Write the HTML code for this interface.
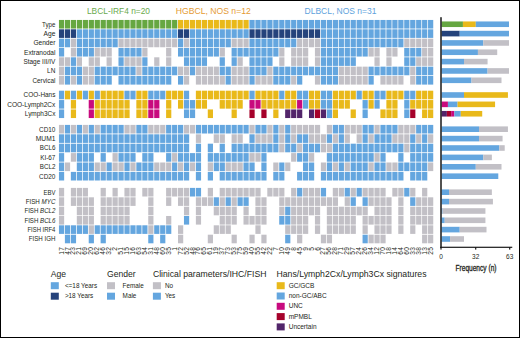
<!DOCTYPE html><html><head><meta charset="utf-8"><style>
html,body{margin:0;padding:0;background:#fff;}
body{width:520px;height:338px;overflow:hidden;position:relative;}
svg{position:absolute;left:0;top:0;} #w{position:absolute;left:0;top:0;width:520px;height:338px;}
text{font-family:"Liberation Sans", sans-serif;}
</style></head><body>
<div id="w"><svg width="520" height="338" viewBox="0 0 520 338">
<rect x="0" y="0" width="520" height="338" fill="#fff"/>
<text x="118.50" y="14.20" font-size="8.9" fill="#6aaa4c" text-anchor="middle" textLength="63.1" lengthAdjust="spacingAndGlyphs" >LBCL-IRF4 n=20</text>
<text x="213.30" y="14.20" font-size="8.9" fill="#e59b33" text-anchor="middle" textLength="75" lengthAdjust="spacingAndGlyphs" >HGBCL, NOS n=12</text>
<text x="340.50" y="14.20" font-size="8.9" fill="#5ea2dc" text-anchor="middle" textLength="71.9" lengthAdjust="spacingAndGlyphs" >DLBCL, NOS n=31</text>
<rect x="58.95" y="19.95" width="5.2" height="8.6" fill="#66a741"/>
<rect x="64.90" y="19.95" width="5.2" height="8.6" fill="#66a741"/>
<rect x="70.86" y="19.95" width="5.2" height="8.6" fill="#66a741"/>
<rect x="76.81" y="19.95" width="5.2" height="8.6" fill="#66a741"/>
<rect x="82.76" y="19.95" width="5.2" height="8.6" fill="#66a741"/>
<rect x="88.72" y="19.95" width="5.2" height="8.6" fill="#66a741"/>
<rect x="94.67" y="19.95" width="5.2" height="8.6" fill="#66a741"/>
<rect x="100.62" y="19.95" width="5.2" height="8.6" fill="#66a741"/>
<rect x="106.57" y="19.95" width="5.2" height="8.6" fill="#66a741"/>
<rect x="112.53" y="19.95" width="5.2" height="8.6" fill="#66a741"/>
<rect x="118.48" y="19.95" width="5.2" height="8.6" fill="#66a741"/>
<rect x="124.43" y="19.95" width="5.2" height="8.6" fill="#66a741"/>
<rect x="130.39" y="19.95" width="5.2" height="8.6" fill="#66a741"/>
<rect x="136.34" y="19.95" width="5.2" height="8.6" fill="#66a741"/>
<rect x="142.29" y="19.95" width="5.2" height="8.6" fill="#66a741"/>
<rect x="148.25" y="19.95" width="5.2" height="8.6" fill="#66a741"/>
<rect x="154.20" y="19.95" width="5.2" height="8.6" fill="#66a741"/>
<rect x="160.15" y="19.95" width="5.2" height="8.6" fill="#66a741"/>
<rect x="166.10" y="19.95" width="5.2" height="8.6" fill="#66a741"/>
<rect x="172.06" y="19.95" width="5.2" height="8.6" fill="#66a741"/>
<rect x="178.01" y="19.95" width="5.2" height="8.6" fill="#e9b91a"/>
<rect x="183.96" y="19.95" width="5.2" height="8.6" fill="#e9b91a"/>
<rect x="189.92" y="19.95" width="5.2" height="8.6" fill="#e9b91a"/>
<rect x="195.87" y="19.95" width="5.2" height="8.6" fill="#e9b91a"/>
<rect x="201.82" y="19.95" width="5.2" height="8.6" fill="#e9b91a"/>
<rect x="207.78" y="19.95" width="5.2" height="8.6" fill="#e9b91a"/>
<rect x="213.73" y="19.95" width="5.2" height="8.6" fill="#e9b91a"/>
<rect x="219.68" y="19.95" width="5.2" height="8.6" fill="#e9b91a"/>
<rect x="225.63" y="19.95" width="5.2" height="8.6" fill="#e9b91a"/>
<rect x="231.59" y="19.95" width="5.2" height="8.6" fill="#e9b91a"/>
<rect x="237.54" y="19.95" width="5.2" height="8.6" fill="#e9b91a"/>
<rect x="243.49" y="19.95" width="5.2" height="8.6" fill="#e9b91a"/>
<rect x="249.45" y="19.95" width="5.2" height="8.6" fill="#64a6df"/>
<rect x="255.40" y="19.95" width="5.2" height="8.6" fill="#64a6df"/>
<rect x="261.35" y="19.95" width="5.2" height="8.6" fill="#64a6df"/>
<rect x="267.31" y="19.95" width="5.2" height="8.6" fill="#64a6df"/>
<rect x="273.26" y="19.95" width="5.2" height="8.6" fill="#64a6df"/>
<rect x="279.21" y="19.95" width="5.2" height="8.6" fill="#64a6df"/>
<rect x="285.16" y="19.95" width="5.2" height="8.6" fill="#64a6df"/>
<rect x="291.12" y="19.95" width="5.2" height="8.6" fill="#64a6df"/>
<rect x="297.07" y="19.95" width="5.2" height="8.6" fill="#64a6df"/>
<rect x="303.02" y="19.95" width="5.2" height="8.6" fill="#64a6df"/>
<rect x="308.98" y="19.95" width="5.2" height="8.6" fill="#64a6df"/>
<rect x="314.93" y="19.95" width="5.2" height="8.6" fill="#64a6df"/>
<rect x="320.88" y="19.95" width="5.2" height="8.6" fill="#64a6df"/>
<rect x="326.83" y="19.95" width="5.2" height="8.6" fill="#64a6df"/>
<rect x="332.79" y="19.95" width="5.2" height="8.6" fill="#64a6df"/>
<rect x="338.74" y="19.95" width="5.2" height="8.6" fill="#64a6df"/>
<rect x="344.69" y="19.95" width="5.2" height="8.6" fill="#64a6df"/>
<rect x="350.65" y="19.95" width="5.2" height="8.6" fill="#64a6df"/>
<rect x="356.60" y="19.95" width="5.2" height="8.6" fill="#64a6df"/>
<rect x="362.55" y="19.95" width="5.2" height="8.6" fill="#64a6df"/>
<rect x="368.51" y="19.95" width="5.2" height="8.6" fill="#64a6df"/>
<rect x="374.46" y="19.95" width="5.2" height="8.6" fill="#64a6df"/>
<rect x="380.41" y="19.95" width="5.2" height="8.6" fill="#64a6df"/>
<rect x="386.37" y="19.95" width="5.2" height="8.6" fill="#64a6df"/>
<rect x="392.32" y="19.95" width="5.2" height="8.6" fill="#64a6df"/>
<rect x="398.27" y="19.95" width="5.2" height="8.6" fill="#64a6df"/>
<rect x="404.22" y="19.95" width="5.2" height="8.6" fill="#64a6df"/>
<rect x="410.18" y="19.95" width="5.2" height="8.6" fill="#64a6df"/>
<rect x="416.13" y="19.95" width="5.2" height="8.6" fill="#64a6df"/>
<rect x="422.08" y="19.95" width="5.2" height="8.6" fill="#64a6df"/>
<rect x="428.04" y="19.95" width="5.2" height="8.6" fill="#64a6df"/>
<text x="55.40" y="26.55" font-size="6.8" fill="#231f20" text-anchor="end" textLength="13.3" lengthAdjust="spacingAndGlyphs" >Type</text>
<rect x="58.95" y="29.30" width="5.2" height="8.6" fill="#25437b"/>
<rect x="64.90" y="29.30" width="5.2" height="8.6" fill="#25437b"/>
<rect x="70.86" y="29.30" width="5.2" height="8.6" fill="#25437b"/>
<rect x="76.81" y="29.30" width="5.2" height="8.6" fill="#64a6df"/>
<rect x="82.76" y="29.30" width="5.2" height="8.6" fill="#64a6df"/>
<rect x="88.72" y="29.30" width="5.2" height="8.6" fill="#64a6df"/>
<rect x="94.67" y="29.30" width="5.2" height="8.6" fill="#64a6df"/>
<rect x="100.62" y="29.30" width="5.2" height="8.6" fill="#64a6df"/>
<rect x="106.57" y="29.30" width="5.2" height="8.6" fill="#64a6df"/>
<rect x="112.53" y="29.30" width="5.2" height="8.6" fill="#64a6df"/>
<rect x="118.48" y="29.30" width="5.2" height="8.6" fill="#64a6df"/>
<rect x="124.43" y="29.30" width="5.2" height="8.6" fill="#64a6df"/>
<rect x="130.39" y="29.30" width="5.2" height="8.6" fill="#64a6df"/>
<rect x="136.34" y="29.30" width="5.2" height="8.6" fill="#64a6df"/>
<rect x="142.29" y="29.30" width="5.2" height="8.6" fill="#64a6df"/>
<rect x="148.25" y="29.30" width="5.2" height="8.6" fill="#64a6df"/>
<rect x="154.20" y="29.30" width="5.2" height="8.6" fill="#64a6df"/>
<rect x="160.15" y="29.30" width="5.2" height="8.6" fill="#64a6df"/>
<rect x="166.10" y="29.30" width="5.2" height="8.6" fill="#64a6df"/>
<rect x="172.06" y="29.30" width="5.2" height="8.6" fill="#64a6df"/>
<rect x="178.01" y="29.30" width="5.2" height="8.6" fill="#25437b"/>
<rect x="183.96" y="29.30" width="5.2" height="8.6" fill="#25437b"/>
<rect x="189.92" y="29.30" width="5.2" height="8.6" fill="#64a6df"/>
<rect x="195.87" y="29.30" width="5.2" height="8.6" fill="#64a6df"/>
<rect x="201.82" y="29.30" width="5.2" height="8.6" fill="#64a6df"/>
<rect x="207.78" y="29.30" width="5.2" height="8.6" fill="#64a6df"/>
<rect x="213.73" y="29.30" width="5.2" height="8.6" fill="#64a6df"/>
<rect x="219.68" y="29.30" width="5.2" height="8.6" fill="#64a6df"/>
<rect x="225.63" y="29.30" width="5.2" height="8.6" fill="#64a6df"/>
<rect x="231.59" y="29.30" width="5.2" height="8.6" fill="#64a6df"/>
<rect x="237.54" y="29.30" width="5.2" height="8.6" fill="#64a6df"/>
<rect x="243.49" y="29.30" width="5.2" height="8.6" fill="#64a6df"/>
<rect x="249.45" y="29.30" width="5.2" height="8.6" fill="#25437b"/>
<rect x="255.40" y="29.30" width="5.2" height="8.6" fill="#25437b"/>
<rect x="261.35" y="29.30" width="5.2" height="8.6" fill="#25437b"/>
<rect x="267.31" y="29.30" width="5.2" height="8.6" fill="#25437b"/>
<rect x="273.26" y="29.30" width="5.2" height="8.6" fill="#25437b"/>
<rect x="279.21" y="29.30" width="5.2" height="8.6" fill="#25437b"/>
<rect x="285.16" y="29.30" width="5.2" height="8.6" fill="#25437b"/>
<rect x="291.12" y="29.30" width="5.2" height="8.6" fill="#25437b"/>
<rect x="297.07" y="29.30" width="5.2" height="8.6" fill="#25437b"/>
<rect x="303.02" y="29.30" width="5.2" height="8.6" fill="#25437b"/>
<rect x="308.98" y="29.30" width="5.2" height="8.6" fill="#25437b"/>
<rect x="314.93" y="29.30" width="5.2" height="8.6" fill="#25437b"/>
<rect x="320.88" y="29.30" width="5.2" height="8.6" fill="#64a6df"/>
<rect x="326.83" y="29.30" width="5.2" height="8.6" fill="#64a6df"/>
<rect x="332.79" y="29.30" width="5.2" height="8.6" fill="#64a6df"/>
<rect x="338.74" y="29.30" width="5.2" height="8.6" fill="#64a6df"/>
<rect x="344.69" y="29.30" width="5.2" height="8.6" fill="#64a6df"/>
<rect x="350.65" y="29.30" width="5.2" height="8.6" fill="#64a6df"/>
<rect x="356.60" y="29.30" width="5.2" height="8.6" fill="#64a6df"/>
<rect x="362.55" y="29.30" width="5.2" height="8.6" fill="#64a6df"/>
<rect x="368.51" y="29.30" width="5.2" height="8.6" fill="#64a6df"/>
<rect x="374.46" y="29.30" width="5.2" height="8.6" fill="#64a6df"/>
<rect x="380.41" y="29.30" width="5.2" height="8.6" fill="#64a6df"/>
<rect x="386.37" y="29.30" width="5.2" height="8.6" fill="#64a6df"/>
<rect x="392.32" y="29.30" width="5.2" height="8.6" fill="#64a6df"/>
<rect x="398.27" y="29.30" width="5.2" height="8.6" fill="#64a6df"/>
<rect x="404.22" y="29.30" width="5.2" height="8.6" fill="#64a6df"/>
<rect x="410.18" y="29.30" width="5.2" height="8.6" fill="#64a6df"/>
<rect x="416.13" y="29.30" width="5.2" height="8.6" fill="#64a6df"/>
<rect x="422.08" y="29.30" width="5.2" height="8.6" fill="#64a6df"/>
<rect x="428.04" y="29.30" width="5.2" height="8.6" fill="#64a6df"/>
<text x="55.40" y="35.90" font-size="6.8" fill="#231f20" text-anchor="end" textLength="11.8" lengthAdjust="spacingAndGlyphs" >Age</text>
<rect x="58.95" y="38.65" width="5.2" height="8.6" fill="#64a6df"/>
<rect x="64.90" y="38.65" width="5.2" height="8.6" fill="#64a6df"/>
<rect x="70.86" y="38.65" width="5.2" height="8.6" fill="#c2c0c6"/>
<rect x="76.81" y="38.65" width="5.2" height="8.6" fill="#64a6df"/>
<rect x="82.76" y="38.65" width="5.2" height="8.6" fill="#64a6df"/>
<rect x="88.72" y="38.65" width="5.2" height="8.6" fill="#64a6df"/>
<rect x="94.67" y="38.65" width="5.2" height="8.6" fill="#64a6df"/>
<rect x="100.62" y="38.65" width="5.2" height="8.6" fill="#64a6df"/>
<rect x="106.57" y="38.65" width="5.2" height="8.6" fill="#64a6df"/>
<rect x="112.53" y="38.65" width="5.2" height="8.6" fill="#64a6df"/>
<rect x="118.48" y="38.65" width="5.2" height="8.6" fill="#c2c0c6"/>
<rect x="124.43" y="38.65" width="5.2" height="8.6" fill="#c2c0c6"/>
<rect x="130.39" y="38.65" width="5.2" height="8.6" fill="#c2c0c6"/>
<rect x="136.34" y="38.65" width="5.2" height="8.6" fill="#c2c0c6"/>
<rect x="142.29" y="38.65" width="5.2" height="8.6" fill="#c2c0c6"/>
<rect x="148.25" y="38.65" width="5.2" height="8.6" fill="#c2c0c6"/>
<rect x="154.20" y="38.65" width="5.2" height="8.6" fill="#c2c0c6"/>
<rect x="160.15" y="38.65" width="5.2" height="8.6" fill="#c2c0c6"/>
<rect x="166.10" y="38.65" width="5.2" height="8.6" fill="#c2c0c6"/>
<rect x="172.06" y="38.65" width="5.2" height="8.6" fill="#c2c0c6"/>
<rect x="178.01" y="38.65" width="5.2" height="8.6" fill="#64a6df"/>
<rect x="183.96" y="38.65" width="5.2" height="8.6" fill="#c2c0c6"/>
<rect x="189.92" y="38.65" width="5.2" height="8.6" fill="#64a6df"/>
<rect x="195.87" y="38.65" width="5.2" height="8.6" fill="#64a6df"/>
<rect x="201.82" y="38.65" width="5.2" height="8.6" fill="#64a6df"/>
<rect x="207.78" y="38.65" width="5.2" height="8.6" fill="#64a6df"/>
<rect x="213.73" y="38.65" width="5.2" height="8.6" fill="#64a6df"/>
<rect x="219.68" y="38.65" width="5.2" height="8.6" fill="#64a6df"/>
<rect x="225.63" y="38.65" width="5.2" height="8.6" fill="#64a6df"/>
<rect x="231.59" y="38.65" width="5.2" height="8.6" fill="#c2c0c6"/>
<rect x="237.54" y="38.65" width="5.2" height="8.6" fill="#c2c0c6"/>
<rect x="243.49" y="38.65" width="5.2" height="8.6" fill="#c2c0c6"/>
<rect x="249.45" y="38.65" width="5.2" height="8.6" fill="#64a6df"/>
<rect x="255.40" y="38.65" width="5.2" height="8.6" fill="#64a6df"/>
<rect x="261.35" y="38.65" width="5.2" height="8.6" fill="#64a6df"/>
<rect x="267.31" y="38.65" width="5.2" height="8.6" fill="#64a6df"/>
<rect x="273.26" y="38.65" width="5.2" height="8.6" fill="#64a6df"/>
<rect x="279.21" y="38.65" width="5.2" height="8.6" fill="#64a6df"/>
<rect x="285.16" y="38.65" width="5.2" height="8.6" fill="#64a6df"/>
<rect x="291.12" y="38.65" width="5.2" height="8.6" fill="#64a6df"/>
<rect x="297.07" y="38.65" width="5.2" height="8.6" fill="#c2c0c6"/>
<rect x="303.02" y="38.65" width="5.2" height="8.6" fill="#c2c0c6"/>
<rect x="308.98" y="38.65" width="5.2" height="8.6" fill="#c2c0c6"/>
<rect x="314.93" y="38.65" width="5.2" height="8.6" fill="#c2c0c6"/>
<rect x="320.88" y="38.65" width="5.2" height="8.6" fill="#64a6df"/>
<rect x="326.83" y="38.65" width="5.2" height="8.6" fill="#64a6df"/>
<rect x="332.79" y="38.65" width="5.2" height="8.6" fill="#64a6df"/>
<rect x="338.74" y="38.65" width="5.2" height="8.6" fill="#64a6df"/>
<rect x="344.69" y="38.65" width="5.2" height="8.6" fill="#64a6df"/>
<rect x="350.65" y="38.65" width="5.2" height="8.6" fill="#64a6df"/>
<rect x="356.60" y="38.65" width="5.2" height="8.6" fill="#64a6df"/>
<rect x="362.55" y="38.65" width="5.2" height="8.6" fill="#64a6df"/>
<rect x="368.51" y="38.65" width="5.2" height="8.6" fill="#64a6df"/>
<rect x="374.46" y="38.65" width="5.2" height="8.6" fill="#64a6df"/>
<rect x="380.41" y="38.65" width="5.2" height="8.6" fill="#64a6df"/>
<rect x="386.37" y="38.65" width="5.2" height="8.6" fill="#64a6df"/>
<rect x="392.32" y="38.65" width="5.2" height="8.6" fill="#64a6df"/>
<rect x="398.27" y="38.65" width="5.2" height="8.6" fill="#64a6df"/>
<rect x="404.22" y="38.65" width="5.2" height="8.6" fill="#c2c0c6"/>
<rect x="410.18" y="38.65" width="5.2" height="8.6" fill="#c2c0c6"/>
<rect x="416.13" y="38.65" width="5.2" height="8.6" fill="#c2c0c6"/>
<rect x="422.08" y="38.65" width="5.2" height="8.6" fill="#c2c0c6"/>
<rect x="428.04" y="38.65" width="5.2" height="8.6" fill="#c2c0c6"/>
<text x="55.40" y="45.25" font-size="6.8" fill="#231f20" text-anchor="end" textLength="22" lengthAdjust="spacingAndGlyphs" >Gender</text>
<rect x="58.95" y="47.95" width="5.2" height="8.6" fill="#64a6df"/>
<rect x="70.86" y="47.95" width="5.2" height="8.6" fill="#c2c0c6"/>
<rect x="76.81" y="47.95" width="5.2" height="8.6" fill="#64a6df"/>
<rect x="82.76" y="47.95" width="5.2" height="8.6" fill="#64a6df"/>
<rect x="88.72" y="47.95" width="5.2" height="8.6" fill="#64a6df"/>
<rect x="94.67" y="47.95" width="5.2" height="8.6" fill="#c2c0c6"/>
<rect x="100.62" y="47.95" width="5.2" height="8.6" fill="#c2c0c6"/>
<rect x="106.57" y="47.95" width="5.2" height="8.6" fill="#c2c0c6"/>
<rect x="118.48" y="47.95" width="5.2" height="8.6" fill="#64a6df"/>
<rect x="124.43" y="47.95" width="5.2" height="8.6" fill="#64a6df"/>
<rect x="130.39" y="47.95" width="5.2" height="8.6" fill="#64a6df"/>
<rect x="136.34" y="47.95" width="5.2" height="8.6" fill="#64a6df"/>
<rect x="142.29" y="47.95" width="5.2" height="8.6" fill="#c2c0c6"/>
<rect x="166.10" y="47.95" width="5.2" height="8.6" fill="#c2c0c6"/>
<rect x="178.01" y="47.95" width="5.2" height="8.6" fill="#64a6df"/>
<rect x="183.96" y="47.95" width="5.2" height="8.6" fill="#64a6df"/>
<rect x="189.92" y="47.95" width="5.2" height="8.6" fill="#64a6df"/>
<rect x="195.87" y="47.95" width="5.2" height="8.6" fill="#64a6df"/>
<rect x="201.82" y="47.95" width="5.2" height="8.6" fill="#64a6df"/>
<rect x="207.78" y="47.95" width="5.2" height="8.6" fill="#64a6df"/>
<rect x="213.73" y="47.95" width="5.2" height="8.6" fill="#64a6df"/>
<rect x="219.68" y="47.95" width="5.2" height="8.6" fill="#c2c0c6"/>
<rect x="231.59" y="47.95" width="5.2" height="8.6" fill="#64a6df"/>
<rect x="237.54" y="47.95" width="5.2" height="8.6" fill="#64a6df"/>
<rect x="243.49" y="47.95" width="5.2" height="8.6" fill="#64a6df"/>
<rect x="249.45" y="47.95" width="5.2" height="8.6" fill="#64a6df"/>
<rect x="255.40" y="47.95" width="5.2" height="8.6" fill="#64a6df"/>
<rect x="261.35" y="47.95" width="5.2" height="8.6" fill="#64a6df"/>
<rect x="267.31" y="47.95" width="5.2" height="8.6" fill="#64a6df"/>
<rect x="273.26" y="47.95" width="5.2" height="8.6" fill="#64a6df"/>
<rect x="279.21" y="47.95" width="5.2" height="8.6" fill="#c2c0c6"/>
<rect x="291.12" y="47.95" width="5.2" height="8.6" fill="#c2c0c6"/>
<rect x="297.07" y="47.95" width="5.2" height="8.6" fill="#c2c0c6"/>
<rect x="303.02" y="47.95" width="5.2" height="8.6" fill="#c2c0c6"/>
<rect x="314.93" y="47.95" width="5.2" height="8.6" fill="#c2c0c6"/>
<rect x="320.88" y="47.95" width="5.2" height="8.6" fill="#64a6df"/>
<rect x="326.83" y="47.95" width="5.2" height="8.6" fill="#64a6df"/>
<rect x="332.79" y="47.95" width="5.2" height="8.6" fill="#64a6df"/>
<rect x="338.74" y="47.95" width="5.2" height="8.6" fill="#64a6df"/>
<rect x="344.69" y="47.95" width="5.2" height="8.6" fill="#64a6df"/>
<rect x="350.65" y="47.95" width="5.2" height="8.6" fill="#64a6df"/>
<rect x="356.60" y="47.95" width="5.2" height="8.6" fill="#64a6df"/>
<rect x="362.55" y="47.95" width="5.2" height="8.6" fill="#64a6df"/>
<rect x="368.51" y="47.95" width="5.2" height="8.6" fill="#c2c0c6"/>
<rect x="374.46" y="47.95" width="5.2" height="8.6" fill="#c2c0c6"/>
<rect x="386.37" y="47.95" width="5.2" height="8.6" fill="#c2c0c6"/>
<rect x="392.32" y="47.95" width="5.2" height="8.6" fill="#c2c0c6"/>
<rect x="404.22" y="47.95" width="5.2" height="8.6" fill="#64a6df"/>
<rect x="410.18" y="47.95" width="5.2" height="8.6" fill="#64a6df"/>
<rect x="416.13" y="47.95" width="5.2" height="8.6" fill="#64a6df"/>
<rect x="422.08" y="47.95" width="5.2" height="8.6" fill="#c2c0c6"/>
<rect x="428.04" y="47.95" width="5.2" height="8.6" fill="#c2c0c6"/>
<text x="55.40" y="54.55" font-size="6.8" fill="#231f20" text-anchor="end" textLength="31.4" lengthAdjust="spacingAndGlyphs" >Extranodal</text>
<rect x="58.95" y="57.30" width="5.2" height="8.6" fill="#c2c0c6"/>
<rect x="64.90" y="57.30" width="5.2" height="8.6" fill="#c2c0c6"/>
<rect x="70.86" y="57.30" width="5.2" height="8.6" fill="#64a6df"/>
<rect x="76.81" y="57.30" width="5.2" height="8.6" fill="#c2c0c6"/>
<rect x="88.72" y="57.30" width="5.2" height="8.6" fill="#c2c0c6"/>
<rect x="94.67" y="57.30" width="5.2" height="8.6" fill="#c2c0c6"/>
<rect x="106.57" y="57.30" width="5.2" height="8.6" fill="#c2c0c6"/>
<rect x="118.48" y="57.30" width="5.2" height="8.6" fill="#64a6df"/>
<rect x="124.43" y="57.30" width="5.2" height="8.6" fill="#c2c0c6"/>
<rect x="130.39" y="57.30" width="5.2" height="8.6" fill="#c2c0c6"/>
<rect x="136.34" y="57.30" width="5.2" height="8.6" fill="#c2c0c6"/>
<rect x="142.29" y="57.30" width="5.2" height="8.6" fill="#64a6df"/>
<rect x="154.20" y="57.30" width="5.2" height="8.6" fill="#c2c0c6"/>
<rect x="166.10" y="57.30" width="5.2" height="8.6" fill="#c2c0c6"/>
<rect x="183.96" y="57.30" width="5.2" height="8.6" fill="#64a6df"/>
<rect x="189.92" y="57.30" width="5.2" height="8.6" fill="#64a6df"/>
<rect x="195.87" y="57.30" width="5.2" height="8.6" fill="#64a6df"/>
<rect x="201.82" y="57.30" width="5.2" height="8.6" fill="#64a6df"/>
<rect x="219.68" y="57.30" width="5.2" height="8.6" fill="#64a6df"/>
<rect x="231.59" y="57.30" width="5.2" height="8.6" fill="#64a6df"/>
<rect x="237.54" y="57.30" width="5.2" height="8.6" fill="#c2c0c6"/>
<rect x="249.45" y="57.30" width="5.2" height="8.6" fill="#64a6df"/>
<rect x="255.40" y="57.30" width="5.2" height="8.6" fill="#64a6df"/>
<rect x="261.35" y="57.30" width="5.2" height="8.6" fill="#64a6df"/>
<rect x="267.31" y="57.30" width="5.2" height="8.6" fill="#64a6df"/>
<rect x="279.21" y="57.30" width="5.2" height="8.6" fill="#c2c0c6"/>
<rect x="291.12" y="57.30" width="5.2" height="8.6" fill="#c2c0c6"/>
<rect x="297.07" y="57.30" width="5.2" height="8.6" fill="#c2c0c6"/>
<rect x="303.02" y="57.30" width="5.2" height="8.6" fill="#c2c0c6"/>
<rect x="314.93" y="57.30" width="5.2" height="8.6" fill="#c2c0c6"/>
<rect x="320.88" y="57.30" width="5.2" height="8.6" fill="#64a6df"/>
<rect x="326.83" y="57.30" width="5.2" height="8.6" fill="#64a6df"/>
<rect x="332.79" y="57.30" width="5.2" height="8.6" fill="#64a6df"/>
<rect x="338.74" y="57.30" width="5.2" height="8.6" fill="#64a6df"/>
<rect x="344.69" y="57.30" width="5.2" height="8.6" fill="#64a6df"/>
<rect x="350.65" y="57.30" width="5.2" height="8.6" fill="#64a6df"/>
<rect x="374.46" y="57.30" width="5.2" height="8.6" fill="#c2c0c6"/>
<rect x="386.37" y="57.30" width="5.2" height="8.6" fill="#c2c0c6"/>
<rect x="404.22" y="57.30" width="5.2" height="8.6" fill="#64a6df"/>
<rect x="410.18" y="57.30" width="5.2" height="8.6" fill="#64a6df"/>
<rect x="416.13" y="57.30" width="5.2" height="8.6" fill="#c2c0c6"/>
<rect x="422.08" y="57.30" width="5.2" height="8.6" fill="#c2c0c6"/>
<rect x="428.04" y="57.30" width="5.2" height="8.6" fill="#c2c0c6"/>
<text x="55.40" y="63.90" font-size="6.8" fill="#231f20" text-anchor="end" textLength="32" lengthAdjust="spacingAndGlyphs" >Stage III/IV</text>
<rect x="58.95" y="66.65" width="5.2" height="8.6" fill="#c2c0c6"/>
<rect x="64.90" y="66.65" width="5.2" height="8.6" fill="#64a6df"/>
<rect x="70.86" y="66.65" width="5.2" height="8.6" fill="#64a6df"/>
<rect x="76.81" y="66.65" width="5.2" height="8.6" fill="#64a6df"/>
<rect x="82.76" y="66.65" width="5.2" height="8.6" fill="#c2c0c6"/>
<rect x="88.72" y="66.65" width="5.2" height="8.6" fill="#c2c0c6"/>
<rect x="94.67" y="66.65" width="5.2" height="8.6" fill="#64a6df"/>
<rect x="100.62" y="66.65" width="5.2" height="8.6" fill="#64a6df"/>
<rect x="106.57" y="66.65" width="5.2" height="8.6" fill="#64a6df"/>
<rect x="112.53" y="66.65" width="5.2" height="8.6" fill="#64a6df"/>
<rect x="118.48" y="66.65" width="5.2" height="8.6" fill="#64a6df"/>
<rect x="124.43" y="66.65" width="5.2" height="8.6" fill="#64a6df"/>
<rect x="130.39" y="66.65" width="5.2" height="8.6" fill="#64a6df"/>
<rect x="136.34" y="66.65" width="5.2" height="8.6" fill="#c2c0c6"/>
<rect x="142.29" y="66.65" width="5.2" height="8.6" fill="#64a6df"/>
<rect x="148.25" y="66.65" width="5.2" height="8.6" fill="#64a6df"/>
<rect x="154.20" y="66.65" width="5.2" height="8.6" fill="#64a6df"/>
<rect x="160.15" y="66.65" width="5.2" height="8.6" fill="#64a6df"/>
<rect x="166.10" y="66.65" width="5.2" height="8.6" fill="#64a6df"/>
<rect x="172.06" y="66.65" width="5.2" height="8.6" fill="#64a6df"/>
<rect x="178.01" y="66.65" width="5.2" height="8.6" fill="#c2c0c6"/>
<rect x="183.96" y="66.65" width="5.2" height="8.6" fill="#c2c0c6"/>
<rect x="189.92" y="66.65" width="5.2" height="8.6" fill="#64a6df"/>
<rect x="195.87" y="66.65" width="5.2" height="8.6" fill="#c2c0c6"/>
<rect x="201.82" y="66.65" width="5.2" height="8.6" fill="#c2c0c6"/>
<rect x="207.78" y="66.65" width="5.2" height="8.6" fill="#c2c0c6"/>
<rect x="213.73" y="66.65" width="5.2" height="8.6" fill="#c2c0c6"/>
<rect x="219.68" y="66.65" width="5.2" height="8.6" fill="#64a6df"/>
<rect x="225.63" y="66.65" width="5.2" height="8.6" fill="#64a6df"/>
<rect x="231.59" y="66.65" width="5.2" height="8.6" fill="#c2c0c6"/>
<rect x="237.54" y="66.65" width="5.2" height="8.6" fill="#c2c0c6"/>
<rect x="243.49" y="66.65" width="5.2" height="8.6" fill="#c2c0c6"/>
<rect x="249.45" y="66.65" width="5.2" height="8.6" fill="#64a6df"/>
<rect x="255.40" y="66.65" width="5.2" height="8.6" fill="#64a6df"/>
<rect x="261.35" y="66.65" width="5.2" height="8.6" fill="#64a6df"/>
<rect x="267.31" y="66.65" width="5.2" height="8.6" fill="#c2c0c6"/>
<rect x="273.26" y="66.65" width="5.2" height="8.6" fill="#64a6df"/>
<rect x="279.21" y="66.65" width="5.2" height="8.6" fill="#64a6df"/>
<rect x="285.16" y="66.65" width="5.2" height="8.6" fill="#64a6df"/>
<rect x="291.12" y="66.65" width="5.2" height="8.6" fill="#64a6df"/>
<rect x="297.07" y="66.65" width="5.2" height="8.6" fill="#64a6df"/>
<rect x="303.02" y="66.65" width="5.2" height="8.6" fill="#64a6df"/>
<rect x="308.98" y="66.65" width="5.2" height="8.6" fill="#64a6df"/>
<rect x="314.93" y="66.65" width="5.2" height="8.6" fill="#64a6df"/>
<rect x="320.88" y="66.65" width="5.2" height="8.6" fill="#64a6df"/>
<rect x="326.83" y="66.65" width="5.2" height="8.6" fill="#64a6df"/>
<rect x="332.79" y="66.65" width="5.2" height="8.6" fill="#64a6df"/>
<rect x="338.74" y="66.65" width="5.2" height="8.6" fill="#c2c0c6"/>
<rect x="344.69" y="66.65" width="5.2" height="8.6" fill="#c2c0c6"/>
<rect x="350.65" y="66.65" width="5.2" height="8.6" fill="#c2c0c6"/>
<rect x="356.60" y="66.65" width="5.2" height="8.6" fill="#c2c0c6"/>
<rect x="362.55" y="66.65" width="5.2" height="8.6" fill="#c2c0c6"/>
<rect x="368.51" y="66.65" width="5.2" height="8.6" fill="#64a6df"/>
<rect x="374.46" y="66.65" width="5.2" height="8.6" fill="#64a6df"/>
<rect x="380.41" y="66.65" width="5.2" height="8.6" fill="#64a6df"/>
<rect x="386.37" y="66.65" width="5.2" height="8.6" fill="#64a6df"/>
<rect x="392.32" y="66.65" width="5.2" height="8.6" fill="#64a6df"/>
<rect x="398.27" y="66.65" width="5.2" height="8.6" fill="#64a6df"/>
<rect x="404.22" y="66.65" width="5.2" height="8.6" fill="#64a6df"/>
<rect x="410.18" y="66.65" width="5.2" height="8.6" fill="#c2c0c6"/>
<rect x="416.13" y="66.65" width="5.2" height="8.6" fill="#64a6df"/>
<rect x="422.08" y="66.65" width="5.2" height="8.6" fill="#64a6df"/>
<rect x="428.04" y="66.65" width="5.2" height="8.6" fill="#64a6df"/>
<text x="55.40" y="73.25" font-size="6.8" fill="#231f20" text-anchor="end" textLength="8.3" lengthAdjust="spacingAndGlyphs" >LN</text>
<rect x="58.95" y="76.00" width="5.2" height="8.6" fill="#c2c0c6"/>
<rect x="64.90" y="76.00" width="5.2" height="8.6" fill="#64a6df"/>
<rect x="70.86" y="76.00" width="5.2" height="8.6" fill="#c2c0c6"/>
<rect x="76.81" y="76.00" width="5.2" height="8.6" fill="#64a6df"/>
<rect x="82.76" y="76.00" width="5.2" height="8.6" fill="#c2c0c6"/>
<rect x="88.72" y="76.00" width="5.2" height="8.6" fill="#c2c0c6"/>
<rect x="94.67" y="76.00" width="5.2" height="8.6" fill="#64a6df"/>
<rect x="100.62" y="76.00" width="5.2" height="8.6" fill="#64a6df"/>
<rect x="106.57" y="76.00" width="5.2" height="8.6" fill="#64a6df"/>
<rect x="118.48" y="76.00" width="5.2" height="8.6" fill="#64a6df"/>
<rect x="124.43" y="76.00" width="5.2" height="8.6" fill="#64a6df"/>
<rect x="130.39" y="76.00" width="5.2" height="8.6" fill="#64a6df"/>
<rect x="136.34" y="76.00" width="5.2" height="8.6" fill="#64a6df"/>
<rect x="142.29" y="76.00" width="5.2" height="8.6" fill="#64a6df"/>
<rect x="148.25" y="76.00" width="5.2" height="8.6" fill="#64a6df"/>
<rect x="154.20" y="76.00" width="5.2" height="8.6" fill="#64a6df"/>
<rect x="160.15" y="76.00" width="5.2" height="8.6" fill="#64a6df"/>
<rect x="166.10" y="76.00" width="5.2" height="8.6" fill="#64a6df"/>
<rect x="178.01" y="76.00" width="5.2" height="8.6" fill="#64a6df"/>
<rect x="183.96" y="76.00" width="5.2" height="8.6" fill="#c2c0c6"/>
<rect x="195.87" y="76.00" width="5.2" height="8.6" fill="#c2c0c6"/>
<rect x="201.82" y="76.00" width="5.2" height="8.6" fill="#c2c0c6"/>
<rect x="207.78" y="76.00" width="5.2" height="8.6" fill="#c2c0c6"/>
<rect x="213.73" y="76.00" width="5.2" height="8.6" fill="#c2c0c6"/>
<rect x="219.68" y="76.00" width="5.2" height="8.6" fill="#c2c0c6"/>
<rect x="225.63" y="76.00" width="5.2" height="8.6" fill="#64a6df"/>
<rect x="231.59" y="76.00" width="5.2" height="8.6" fill="#c2c0c6"/>
<rect x="237.54" y="76.00" width="5.2" height="8.6" fill="#c2c0c6"/>
<rect x="243.49" y="76.00" width="5.2" height="8.6" fill="#c2c0c6"/>
<rect x="249.45" y="76.00" width="5.2" height="8.6" fill="#64a6df"/>
<rect x="255.40" y="76.00" width="5.2" height="8.6" fill="#c2c0c6"/>
<rect x="261.35" y="76.00" width="5.2" height="8.6" fill="#c2c0c6"/>
<rect x="267.31" y="76.00" width="5.2" height="8.6" fill="#c2c0c6"/>
<rect x="273.26" y="76.00" width="5.2" height="8.6" fill="#64a6df"/>
<rect x="279.21" y="76.00" width="5.2" height="8.6" fill="#64a6df"/>
<rect x="285.16" y="76.00" width="5.2" height="8.6" fill="#64a6df"/>
<rect x="291.12" y="76.00" width="5.2" height="8.6" fill="#c2c0c6"/>
<rect x="297.07" y="76.00" width="5.2" height="8.6" fill="#64a6df"/>
<rect x="314.93" y="76.00" width="5.2" height="8.6" fill="#c2c0c6"/>
<rect x="320.88" y="76.00" width="5.2" height="8.6" fill="#64a6df"/>
<rect x="326.83" y="76.00" width="5.2" height="8.6" fill="#64a6df"/>
<rect x="332.79" y="76.00" width="5.2" height="8.6" fill="#64a6df"/>
<rect x="338.74" y="76.00" width="5.2" height="8.6" fill="#c2c0c6"/>
<rect x="344.69" y="76.00" width="5.2" height="8.6" fill="#c2c0c6"/>
<rect x="350.65" y="76.00" width="5.2" height="8.6" fill="#c2c0c6"/>
<rect x="356.60" y="76.00" width="5.2" height="8.6" fill="#c2c0c6"/>
<rect x="362.55" y="76.00" width="5.2" height="8.6" fill="#c2c0c6"/>
<rect x="368.51" y="76.00" width="5.2" height="8.6" fill="#64a6df"/>
<rect x="380.41" y="76.00" width="5.2" height="8.6" fill="#c2c0c6"/>
<rect x="386.37" y="76.00" width="5.2" height="8.6" fill="#c2c0c6"/>
<rect x="392.32" y="76.00" width="5.2" height="8.6" fill="#c2c0c6"/>
<rect x="398.27" y="76.00" width="5.2" height="8.6" fill="#c2c0c6"/>
<rect x="410.18" y="76.00" width="5.2" height="8.6" fill="#c2c0c6"/>
<rect x="416.13" y="76.00" width="5.2" height="8.6" fill="#64a6df"/>
<rect x="422.08" y="76.00" width="5.2" height="8.6" fill="#64a6df"/>
<rect x="428.04" y="76.00" width="5.2" height="8.6" fill="#64a6df"/>
<text x="55.40" y="82.60" font-size="6.8" fill="#231f20" text-anchor="end" textLength="23" lengthAdjust="spacingAndGlyphs" >Cervical</text>
<rect x="58.95" y="90.70" width="5.2" height="8.6" fill="#64a6df"/>
<rect x="64.90" y="90.70" width="5.2" height="8.6" fill="#e9b91a"/>
<rect x="70.86" y="90.70" width="5.2" height="8.6" fill="#64a6df"/>
<rect x="76.81" y="90.70" width="5.2" height="8.6" fill="#e9b91a"/>
<rect x="82.76" y="90.70" width="5.2" height="8.6" fill="#64a6df"/>
<rect x="88.72" y="90.70" width="5.2" height="8.6" fill="#e9b91a"/>
<rect x="94.67" y="90.70" width="5.2" height="8.6" fill="#64a6df"/>
<rect x="100.62" y="90.70" width="5.2" height="8.6" fill="#e9b91a"/>
<rect x="106.57" y="90.70" width="5.2" height="8.6" fill="#e9b91a"/>
<rect x="112.53" y="90.70" width="5.2" height="8.6" fill="#e9b91a"/>
<rect x="118.48" y="90.70" width="5.2" height="8.6" fill="#e9b91a"/>
<rect x="124.43" y="90.70" width="5.2" height="8.6" fill="#64a6df"/>
<rect x="130.39" y="90.70" width="5.2" height="8.6" fill="#64a6df"/>
<rect x="136.34" y="90.70" width="5.2" height="8.6" fill="#e9b91a"/>
<rect x="142.29" y="90.70" width="5.2" height="8.6" fill="#e9b91a"/>
<rect x="148.25" y="90.70" width="5.2" height="8.6" fill="#64a6df"/>
<rect x="154.20" y="90.70" width="5.2" height="8.6" fill="#64a6df"/>
<rect x="160.15" y="90.70" width="5.2" height="8.6" fill="#64a6df"/>
<rect x="166.10" y="90.70" width="5.2" height="8.6" fill="#e9b91a"/>
<rect x="172.06" y="90.70" width="5.2" height="8.6" fill="#e9b91a"/>
<rect x="178.01" y="90.70" width="5.2" height="8.6" fill="#e9b91a"/>
<rect x="183.96" y="90.70" width="5.2" height="8.6" fill="#64a6df"/>
<rect x="195.87" y="90.70" width="5.2" height="8.6" fill="#e9b91a"/>
<rect x="201.82" y="90.70" width="5.2" height="8.6" fill="#e9b91a"/>
<rect x="207.78" y="90.70" width="5.2" height="8.6" fill="#e9b91a"/>
<rect x="213.73" y="90.70" width="5.2" height="8.6" fill="#e9b91a"/>
<rect x="219.68" y="90.70" width="5.2" height="8.6" fill="#e9b91a"/>
<rect x="225.63" y="90.70" width="5.2" height="8.6" fill="#e9b91a"/>
<rect x="231.59" y="90.70" width="5.2" height="8.6" fill="#e9b91a"/>
<rect x="237.54" y="90.70" width="5.2" height="8.6" fill="#e9b91a"/>
<rect x="243.49" y="90.70" width="5.2" height="8.6" fill="#e9b91a"/>
<rect x="249.45" y="90.70" width="5.2" height="8.6" fill="#64a6df"/>
<rect x="255.40" y="90.70" width="5.2" height="8.6" fill="#e9b91a"/>
<rect x="261.35" y="90.70" width="5.2" height="8.6" fill="#e9b91a"/>
<rect x="267.31" y="90.70" width="5.2" height="8.6" fill="#e9b91a"/>
<rect x="273.26" y="90.70" width="5.2" height="8.6" fill="#e9b91a"/>
<rect x="279.21" y="90.70" width="5.2" height="8.6" fill="#64a6df"/>
<rect x="285.16" y="90.70" width="5.2" height="8.6" fill="#e9b91a"/>
<rect x="291.12" y="90.70" width="5.2" height="8.6" fill="#e9b91a"/>
<rect x="297.07" y="90.70" width="5.2" height="8.6" fill="#64a6df"/>
<rect x="303.02" y="90.70" width="5.2" height="8.6" fill="#64a6df"/>
<rect x="308.98" y="90.70" width="5.2" height="8.6" fill="#e9b91a"/>
<rect x="314.93" y="90.70" width="5.2" height="8.6" fill="#e9b91a"/>
<rect x="320.88" y="90.70" width="5.2" height="8.6" fill="#64a6df"/>
<rect x="326.83" y="90.70" width="5.2" height="8.6" fill="#64a6df"/>
<rect x="332.79" y="90.70" width="5.2" height="8.6" fill="#e9b91a"/>
<rect x="338.74" y="90.70" width="5.2" height="8.6" fill="#e9b91a"/>
<rect x="344.69" y="90.70" width="5.2" height="8.6" fill="#e9b91a"/>
<rect x="350.65" y="90.70" width="5.2" height="8.6" fill="#e9b91a"/>
<rect x="356.60" y="90.70" width="5.2" height="8.6" fill="#64a6df"/>
<rect x="362.55" y="90.70" width="5.2" height="8.6" fill="#e9b91a"/>
<rect x="368.51" y="90.70" width="5.2" height="8.6" fill="#e9b91a"/>
<rect x="374.46" y="90.70" width="5.2" height="8.6" fill="#64a6df"/>
<rect x="380.41" y="90.70" width="5.2" height="8.6" fill="#64a6df"/>
<rect x="386.37" y="90.70" width="5.2" height="8.6" fill="#e9b91a"/>
<rect x="392.32" y="90.70" width="5.2" height="8.6" fill="#e9b91a"/>
<rect x="398.27" y="90.70" width="5.2" height="8.6" fill="#e9b91a"/>
<rect x="404.22" y="90.70" width="5.2" height="8.6" fill="#64a6df"/>
<rect x="410.18" y="90.70" width="5.2" height="8.6" fill="#64a6df"/>
<rect x="416.13" y="90.70" width="5.2" height="8.6" fill="#e9b91a"/>
<rect x="422.08" y="90.70" width="5.2" height="8.6" fill="#e9b91a"/>
<rect x="428.04" y="90.70" width="5.2" height="8.6" fill="#e9b91a"/>
<text x="55.40" y="97.30" font-size="6.8" fill="#231f20" text-anchor="end" textLength="31.8" lengthAdjust="spacingAndGlyphs" >COO-Hans</text>
<rect x="58.95" y="100.05" width="5.2" height="8.6" fill="#64a6df"/>
<rect x="70.86" y="100.05" width="5.2" height="8.6" fill="#e9b91a"/>
<rect x="88.72" y="100.05" width="5.2" height="8.6" fill="#c80a7e"/>
<rect x="94.67" y="100.05" width="5.2" height="8.6" fill="#e9b91a"/>
<rect x="100.62" y="100.05" width="5.2" height="8.6" fill="#e9b91a"/>
<rect x="106.57" y="100.05" width="5.2" height="8.6" fill="#e9b91a"/>
<rect x="112.53" y="100.05" width="5.2" height="8.6" fill="#e9b91a"/>
<rect x="118.48" y="100.05" width="5.2" height="8.6" fill="#e9b91a"/>
<rect x="124.43" y="100.05" width="5.2" height="8.6" fill="#e9b91a"/>
<rect x="136.34" y="100.05" width="5.2" height="8.6" fill="#e9b91a"/>
<rect x="142.29" y="100.05" width="5.2" height="8.6" fill="#e9b91a"/>
<rect x="148.25" y="100.05" width="5.2" height="8.6" fill="#c80a7e"/>
<rect x="154.20" y="100.05" width="5.2" height="8.6" fill="#c80a7e"/>
<rect x="166.10" y="100.05" width="5.2" height="8.6" fill="#e9b91a"/>
<rect x="178.01" y="100.05" width="5.2" height="8.6" fill="#e9b91a"/>
<rect x="183.96" y="100.05" width="5.2" height="8.6" fill="#64a6df"/>
<rect x="189.92" y="100.05" width="5.2" height="8.6" fill="#64a6df"/>
<rect x="195.87" y="100.05" width="5.2" height="8.6" fill="#e9b91a"/>
<rect x="201.82" y="100.05" width="5.2" height="8.6" fill="#e9b91a"/>
<rect x="219.68" y="100.05" width="5.2" height="8.6" fill="#e9b91a"/>
<rect x="225.63" y="100.05" width="5.2" height="8.6" fill="#e9b91a"/>
<rect x="231.59" y="100.05" width="5.2" height="8.6" fill="#e9b91a"/>
<rect x="237.54" y="100.05" width="5.2" height="8.6" fill="#e9b91a"/>
<rect x="249.45" y="100.05" width="5.2" height="8.6" fill="#c80a7e"/>
<rect x="255.40" y="100.05" width="5.2" height="8.6" fill="#c80a7e"/>
<rect x="261.35" y="100.05" width="5.2" height="8.6" fill="#e9b91a"/>
<rect x="267.31" y="100.05" width="5.2" height="8.6" fill="#e9b91a"/>
<rect x="273.26" y="100.05" width="5.2" height="8.6" fill="#e9b91a"/>
<rect x="279.21" y="100.05" width="5.2" height="8.6" fill="#e9b91a"/>
<rect x="285.16" y="100.05" width="5.2" height="8.6" fill="#e9b91a"/>
<rect x="291.12" y="100.05" width="5.2" height="8.6" fill="#e9b91a"/>
<rect x="297.07" y="100.05" width="5.2" height="8.6" fill="#c80a7e"/>
<rect x="303.02" y="100.05" width="5.2" height="8.6" fill="#64a6df"/>
<rect x="308.98" y="100.05" width="5.2" height="8.6" fill="#e9b91a"/>
<rect x="314.93" y="100.05" width="5.2" height="8.6" fill="#e9b91a"/>
<rect x="320.88" y="100.05" width="5.2" height="8.6" fill="#64a6df"/>
<rect x="326.83" y="100.05" width="5.2" height="8.6" fill="#64a6df"/>
<rect x="332.79" y="100.05" width="5.2" height="8.6" fill="#e9b91a"/>
<rect x="338.74" y="100.05" width="5.2" height="8.6" fill="#e9b91a"/>
<rect x="344.69" y="100.05" width="5.2" height="8.6" fill="#e9b91a"/>
<rect x="362.55" y="100.05" width="5.2" height="8.6" fill="#64a6df"/>
<rect x="368.51" y="100.05" width="5.2" height="8.6" fill="#e9b91a"/>
<rect x="374.46" y="100.05" width="5.2" height="8.6" fill="#64a6df"/>
<rect x="386.37" y="100.05" width="5.2" height="8.6" fill="#e9b91a"/>
<rect x="392.32" y="100.05" width="5.2" height="8.6" fill="#e9b91a"/>
<rect x="404.22" y="100.05" width="5.2" height="8.6" fill="#64a6df"/>
<rect x="410.18" y="100.05" width="5.2" height="8.6" fill="#e9b91a"/>
<rect x="416.13" y="100.05" width="5.2" height="8.6" fill="#e9b91a"/>
<rect x="422.08" y="100.05" width="5.2" height="8.6" fill="#e9b91a"/>
<rect x="428.04" y="100.05" width="5.2" height="8.6" fill="#e9b91a"/>
<text x="55.40" y="106.65" font-size="6.8" fill="#231f20" text-anchor="end" textLength="48.2" lengthAdjust="spacingAndGlyphs" >COO-Lymph2Cx</text>
<rect x="58.95" y="109.45" width="5.2" height="8.6" fill="#64a6df"/>
<rect x="70.86" y="109.45" width="5.2" height="8.6" fill="#e9b91a"/>
<rect x="88.72" y="109.45" width="5.2" height="8.6" fill="#c80a7e"/>
<rect x="94.67" y="109.45" width="5.2" height="8.6" fill="#e9b91a"/>
<rect x="100.62" y="109.45" width="5.2" height="8.6" fill="#e9b91a"/>
<rect x="106.57" y="109.45" width="5.2" height="8.6" fill="#e9b91a"/>
<rect x="112.53" y="109.45" width="5.2" height="8.6" fill="#e9b91a"/>
<rect x="118.48" y="109.45" width="5.2" height="8.6" fill="#e9b91a"/>
<rect x="124.43" y="109.45" width="5.2" height="8.6" fill="#e9b91a"/>
<rect x="136.34" y="109.45" width="5.2" height="8.6" fill="#e9b91a"/>
<rect x="142.29" y="109.45" width="5.2" height="8.6" fill="#e9b91a"/>
<rect x="148.25" y="109.45" width="5.2" height="8.6" fill="#c80a7e"/>
<rect x="154.20" y="109.45" width="5.2" height="8.6" fill="#c80a7e"/>
<rect x="166.10" y="109.45" width="5.2" height="8.6" fill="#e9b91a"/>
<rect x="183.96" y="109.45" width="5.2" height="8.6" fill="#64a6df"/>
<rect x="189.92" y="109.45" width="5.2" height="8.6" fill="#64a6df"/>
<rect x="207.78" y="109.45" width="5.2" height="8.6" fill="#e9b91a"/>
<rect x="231.59" y="109.45" width="5.2" height="8.6" fill="#e9b91a"/>
<rect x="249.45" y="109.45" width="5.2" height="8.6" fill="#a6022b"/>
<rect x="261.35" y="109.45" width="5.2" height="8.6" fill="#a6022b"/>
<rect x="273.26" y="109.45" width="5.2" height="8.6" fill="#e9b91a"/>
<rect x="285.16" y="109.45" width="5.2" height="8.6" fill="#52256a"/>
<rect x="291.12" y="109.45" width="5.2" height="8.6" fill="#52256a"/>
<rect x="297.07" y="109.45" width="5.2" height="8.6" fill="#52256a"/>
<rect x="308.98" y="109.45" width="5.2" height="8.6" fill="#52256a"/>
<rect x="314.93" y="109.45" width="5.2" height="8.6" fill="#a6022b"/>
<rect x="320.88" y="109.45" width="5.2" height="8.6" fill="#52256a"/>
<rect x="326.83" y="109.45" width="5.2" height="8.6" fill="#64a6df"/>
<rect x="332.79" y="109.45" width="5.2" height="8.6" fill="#e9b91a"/>
<rect x="350.65" y="109.45" width="5.2" height="8.6" fill="#e9b91a"/>
<rect x="362.55" y="109.45" width="5.2" height="8.6" fill="#64a6df"/>
<rect x="380.41" y="109.45" width="5.2" height="8.6" fill="#e9b91a"/>
<rect x="386.37" y="109.45" width="5.2" height="8.6" fill="#e9b91a"/>
<rect x="392.32" y="109.45" width="5.2" height="8.6" fill="#e9b91a"/>
<rect x="404.22" y="109.45" width="5.2" height="8.6" fill="#64a6df"/>
<rect x="410.18" y="109.45" width="5.2" height="8.6" fill="#a6022b"/>
<rect x="422.08" y="109.45" width="5.2" height="8.6" fill="#e9b91a"/>
<rect x="428.04" y="109.45" width="5.2" height="8.6" fill="#e9b91a"/>
<text x="55.40" y="116.05" font-size="6.8" fill="#231f20" text-anchor="end" textLength="30.6" lengthAdjust="spacingAndGlyphs" >Lymph3Cx</text>
<rect x="58.95" y="124.90" width="5.2" height="8.6" fill="#c2c0c6"/>
<rect x="64.90" y="124.90" width="5.2" height="8.6" fill="#64a6df"/>
<rect x="70.86" y="124.90" width="5.2" height="8.6" fill="#c2c0c6"/>
<rect x="76.81" y="124.90" width="5.2" height="8.6" fill="#64a6df"/>
<rect x="82.76" y="124.90" width="5.2" height="8.6" fill="#c2c0c6"/>
<rect x="88.72" y="124.90" width="5.2" height="8.6" fill="#64a6df"/>
<rect x="94.67" y="124.90" width="5.2" height="8.6" fill="#c2c0c6"/>
<rect x="100.62" y="124.90" width="5.2" height="8.6" fill="#64a6df"/>
<rect x="106.57" y="124.90" width="5.2" height="8.6" fill="#64a6df"/>
<rect x="112.53" y="124.90" width="5.2" height="8.6" fill="#64a6df"/>
<rect x="118.48" y="124.90" width="5.2" height="8.6" fill="#64a6df"/>
<rect x="124.43" y="124.90" width="5.2" height="8.6" fill="#c2c0c6"/>
<rect x="130.39" y="124.90" width="5.2" height="8.6" fill="#c2c0c6"/>
<rect x="136.34" y="124.90" width="5.2" height="8.6" fill="#64a6df"/>
<rect x="142.29" y="124.90" width="5.2" height="8.6" fill="#64a6df"/>
<rect x="148.25" y="124.90" width="5.2" height="8.6" fill="#c2c0c6"/>
<rect x="154.20" y="124.90" width="5.2" height="8.6" fill="#c2c0c6"/>
<rect x="160.15" y="124.90" width="5.2" height="8.6" fill="#c2c0c6"/>
<rect x="166.10" y="124.90" width="5.2" height="8.6" fill="#64a6df"/>
<rect x="172.06" y="124.90" width="5.2" height="8.6" fill="#64a6df"/>
<rect x="178.01" y="124.90" width="5.2" height="8.6" fill="#64a6df"/>
<rect x="183.96" y="124.90" width="5.2" height="8.6" fill="#c2c0c6"/>
<rect x="189.92" y="124.90" width="5.2" height="8.6" fill="#c2c0c6"/>
<rect x="195.87" y="124.90" width="5.2" height="8.6" fill="#64a6df"/>
<rect x="201.82" y="124.90" width="5.2" height="8.6" fill="#64a6df"/>
<rect x="207.78" y="124.90" width="5.2" height="8.6" fill="#64a6df"/>
<rect x="213.73" y="124.90" width="5.2" height="8.6" fill="#64a6df"/>
<rect x="219.68" y="124.90" width="5.2" height="8.6" fill="#64a6df"/>
<rect x="225.63" y="124.90" width="5.2" height="8.6" fill="#64a6df"/>
<rect x="231.59" y="124.90" width="5.2" height="8.6" fill="#64a6df"/>
<rect x="237.54" y="124.90" width="5.2" height="8.6" fill="#64a6df"/>
<rect x="243.49" y="124.90" width="5.2" height="8.6" fill="#64a6df"/>
<rect x="249.45" y="124.90" width="5.2" height="8.6" fill="#c2c0c6"/>
<rect x="255.40" y="124.90" width="5.2" height="8.6" fill="#64a6df"/>
<rect x="261.35" y="124.90" width="5.2" height="8.6" fill="#64a6df"/>
<rect x="267.31" y="124.90" width="5.2" height="8.6" fill="#c2c0c6"/>
<rect x="273.26" y="124.90" width="5.2" height="8.6" fill="#64a6df"/>
<rect x="279.21" y="124.90" width="5.2" height="8.6" fill="#c2c0c6"/>
<rect x="285.16" y="124.90" width="5.2" height="8.6" fill="#64a6df"/>
<rect x="291.12" y="124.90" width="5.2" height="8.6" fill="#c2c0c6"/>
<rect x="297.07" y="124.90" width="5.2" height="8.6" fill="#c2c0c6"/>
<rect x="303.02" y="124.90" width="5.2" height="8.6" fill="#c2c0c6"/>
<rect x="308.98" y="124.90" width="5.2" height="8.6" fill="#c2c0c6"/>
<rect x="314.93" y="124.90" width="5.2" height="8.6" fill="#c2c0c6"/>
<rect x="326.83" y="124.90" width="5.2" height="8.6" fill="#c2c0c6"/>
<rect x="332.79" y="124.90" width="5.2" height="8.6" fill="#64a6df"/>
<rect x="338.74" y="124.90" width="5.2" height="8.6" fill="#64a6df"/>
<rect x="344.69" y="124.90" width="5.2" height="8.6" fill="#c2c0c6"/>
<rect x="350.65" y="124.90" width="5.2" height="8.6" fill="#c2c0c6"/>
<rect x="356.60" y="124.90" width="5.2" height="8.6" fill="#c2c0c6"/>
<rect x="362.55" y="124.90" width="5.2" height="8.6" fill="#64a6df"/>
<rect x="368.51" y="124.90" width="5.2" height="8.6" fill="#64a6df"/>
<rect x="374.46" y="124.90" width="5.2" height="8.6" fill="#c2c0c6"/>
<rect x="380.41" y="124.90" width="5.2" height="8.6" fill="#64a6df"/>
<rect x="386.37" y="124.90" width="5.2" height="8.6" fill="#64a6df"/>
<rect x="392.32" y="124.90" width="5.2" height="8.6" fill="#64a6df"/>
<rect x="398.27" y="124.90" width="5.2" height="8.6" fill="#c2c0c6"/>
<rect x="404.22" y="124.90" width="5.2" height="8.6" fill="#c2c0c6"/>
<rect x="410.18" y="124.90" width="5.2" height="8.6" fill="#c2c0c6"/>
<rect x="416.13" y="124.90" width="5.2" height="8.6" fill="#64a6df"/>
<rect x="422.08" y="124.90" width="5.2" height="8.6" fill="#64a6df"/>
<rect x="428.04" y="124.90" width="5.2" height="8.6" fill="#64a6df"/>
<text x="55.40" y="131.50" font-size="6.8" fill="#231f20" text-anchor="end" textLength="16.4" lengthAdjust="spacingAndGlyphs" >CD10</text>
<rect x="58.95" y="134.30" width="5.2" height="8.6" fill="#64a6df"/>
<rect x="64.90" y="134.30" width="5.2" height="8.6" fill="#64a6df"/>
<rect x="70.86" y="134.30" width="5.2" height="8.6" fill="#64a6df"/>
<rect x="76.81" y="134.30" width="5.2" height="8.6" fill="#64a6df"/>
<rect x="82.76" y="134.30" width="5.2" height="8.6" fill="#64a6df"/>
<rect x="88.72" y="134.30" width="5.2" height="8.6" fill="#64a6df"/>
<rect x="94.67" y="134.30" width="5.2" height="8.6" fill="#64a6df"/>
<rect x="100.62" y="134.30" width="5.2" height="8.6" fill="#64a6df"/>
<rect x="106.57" y="134.30" width="5.2" height="8.6" fill="#64a6df"/>
<rect x="112.53" y="134.30" width="5.2" height="8.6" fill="#64a6df"/>
<rect x="118.48" y="134.30" width="5.2" height="8.6" fill="#64a6df"/>
<rect x="124.43" y="134.30" width="5.2" height="8.6" fill="#64a6df"/>
<rect x="130.39" y="134.30" width="5.2" height="8.6" fill="#64a6df"/>
<rect x="136.34" y="134.30" width="5.2" height="8.6" fill="#64a6df"/>
<rect x="142.29" y="134.30" width="5.2" height="8.6" fill="#64a6df"/>
<rect x="148.25" y="134.30" width="5.2" height="8.6" fill="#64a6df"/>
<rect x="154.20" y="134.30" width="5.2" height="8.6" fill="#64a6df"/>
<rect x="160.15" y="134.30" width="5.2" height="8.6" fill="#64a6df"/>
<rect x="166.10" y="134.30" width="5.2" height="8.6" fill="#64a6df"/>
<rect x="172.06" y="134.30" width="5.2" height="8.6" fill="#64a6df"/>
<rect x="178.01" y="134.30" width="5.2" height="8.6" fill="#64a6df"/>
<rect x="183.96" y="134.30" width="5.2" height="8.6" fill="#64a6df"/>
<rect x="195.87" y="134.30" width="5.2" height="8.6" fill="#c2c0c6"/>
<rect x="213.73" y="134.30" width="5.2" height="8.6" fill="#c2c0c6"/>
<rect x="219.68" y="134.30" width="5.2" height="8.6" fill="#c2c0c6"/>
<rect x="231.59" y="134.30" width="5.2" height="8.6" fill="#c2c0c6"/>
<rect x="237.54" y="134.30" width="5.2" height="8.6" fill="#c2c0c6"/>
<rect x="249.45" y="134.30" width="5.2" height="8.6" fill="#64a6df"/>
<rect x="255.40" y="134.30" width="5.2" height="8.6" fill="#c2c0c6"/>
<rect x="261.35" y="134.30" width="5.2" height="8.6" fill="#c2c0c6"/>
<rect x="267.31" y="134.30" width="5.2" height="8.6" fill="#c2c0c6"/>
<rect x="273.26" y="134.30" width="5.2" height="8.6" fill="#64a6df"/>
<rect x="279.21" y="134.30" width="5.2" height="8.6" fill="#c2c0c6"/>
<rect x="285.16" y="134.30" width="5.2" height="8.6" fill="#64a6df"/>
<rect x="291.12" y="134.30" width="5.2" height="8.6" fill="#c2c0c6"/>
<rect x="297.07" y="134.30" width="5.2" height="8.6" fill="#64a6df"/>
<rect x="303.02" y="134.30" width="5.2" height="8.6" fill="#64a6df"/>
<rect x="308.98" y="134.30" width="5.2" height="8.6" fill="#c2c0c6"/>
<rect x="314.93" y="134.30" width="5.2" height="8.6" fill="#c2c0c6"/>
<rect x="320.88" y="134.30" width="5.2" height="8.6" fill="#c2c0c6"/>
<rect x="326.83" y="134.30" width="5.2" height="8.6" fill="#64a6df"/>
<rect x="332.79" y="134.30" width="5.2" height="8.6" fill="#c2c0c6"/>
<rect x="338.74" y="134.30" width="5.2" height="8.6" fill="#64a6df"/>
<rect x="344.69" y="134.30" width="5.2" height="8.6" fill="#c2c0c6"/>
<rect x="356.60" y="134.30" width="5.2" height="8.6" fill="#c2c0c6"/>
<rect x="362.55" y="134.30" width="5.2" height="8.6" fill="#64a6df"/>
<rect x="368.51" y="134.30" width="5.2" height="8.6" fill="#c2c0c6"/>
<rect x="374.46" y="134.30" width="5.2" height="8.6" fill="#64a6df"/>
<rect x="380.41" y="134.30" width="5.2" height="8.6" fill="#64a6df"/>
<rect x="386.37" y="134.30" width="5.2" height="8.6" fill="#64a6df"/>
<rect x="392.32" y="134.30" width="5.2" height="8.6" fill="#c2c0c6"/>
<rect x="398.27" y="134.30" width="5.2" height="8.6" fill="#c2c0c6"/>
<rect x="404.22" y="134.30" width="5.2" height="8.6" fill="#c2c0c6"/>
<rect x="410.18" y="134.30" width="5.2" height="8.6" fill="#64a6df"/>
<rect x="416.13" y="134.30" width="5.2" height="8.6" fill="#c2c0c6"/>
<rect x="422.08" y="134.30" width="5.2" height="8.6" fill="#64a6df"/>
<rect x="428.04" y="134.30" width="5.2" height="8.6" fill="#c2c0c6"/>
<text x="55.40" y="140.90" font-size="6.8" fill="#231f20" text-anchor="end" textLength="19.6" lengthAdjust="spacingAndGlyphs" >MUM1</text>
<rect x="58.95" y="143.70" width="5.2" height="8.6" fill="#64a6df"/>
<rect x="64.90" y="143.70" width="5.2" height="8.6" fill="#64a6df"/>
<rect x="70.86" y="143.70" width="5.2" height="8.6" fill="#64a6df"/>
<rect x="76.81" y="143.70" width="5.2" height="8.6" fill="#64a6df"/>
<rect x="82.76" y="143.70" width="5.2" height="8.6" fill="#64a6df"/>
<rect x="88.72" y="143.70" width="5.2" height="8.6" fill="#64a6df"/>
<rect x="94.67" y="143.70" width="5.2" height="8.6" fill="#64a6df"/>
<rect x="100.62" y="143.70" width="5.2" height="8.6" fill="#64a6df"/>
<rect x="106.57" y="143.70" width="5.2" height="8.6" fill="#64a6df"/>
<rect x="112.53" y="143.70" width="5.2" height="8.6" fill="#64a6df"/>
<rect x="118.48" y="143.70" width="5.2" height="8.6" fill="#64a6df"/>
<rect x="124.43" y="143.70" width="5.2" height="8.6" fill="#64a6df"/>
<rect x="130.39" y="143.70" width="5.2" height="8.6" fill="#64a6df"/>
<rect x="136.34" y="143.70" width="5.2" height="8.6" fill="#64a6df"/>
<rect x="142.29" y="143.70" width="5.2" height="8.6" fill="#64a6df"/>
<rect x="148.25" y="143.70" width="5.2" height="8.6" fill="#64a6df"/>
<rect x="154.20" y="143.70" width="5.2" height="8.6" fill="#64a6df"/>
<rect x="160.15" y="143.70" width="5.2" height="8.6" fill="#64a6df"/>
<rect x="166.10" y="143.70" width="5.2" height="8.6" fill="#64a6df"/>
<rect x="172.06" y="143.70" width="5.2" height="8.6" fill="#64a6df"/>
<rect x="178.01" y="143.70" width="5.2" height="8.6" fill="#64a6df"/>
<rect x="183.96" y="143.70" width="5.2" height="8.6" fill="#64a6df"/>
<rect x="195.87" y="143.70" width="5.2" height="8.6" fill="#64a6df"/>
<rect x="207.78" y="143.70" width="5.2" height="8.6" fill="#64a6df"/>
<rect x="219.68" y="143.70" width="5.2" height="8.6" fill="#64a6df"/>
<rect x="231.59" y="143.70" width="5.2" height="8.6" fill="#64a6df"/>
<rect x="237.54" y="143.70" width="5.2" height="8.6" fill="#64a6df"/>
<rect x="243.49" y="143.70" width="5.2" height="8.6" fill="#64a6df"/>
<rect x="249.45" y="143.70" width="5.2" height="8.6" fill="#64a6df"/>
<rect x="255.40" y="143.70" width="5.2" height="8.6" fill="#64a6df"/>
<rect x="261.35" y="143.70" width="5.2" height="8.6" fill="#64a6df"/>
<rect x="267.31" y="143.70" width="5.2" height="8.6" fill="#64a6df"/>
<rect x="273.26" y="143.70" width="5.2" height="8.6" fill="#64a6df"/>
<rect x="279.21" y="143.70" width="5.2" height="8.6" fill="#c2c0c6"/>
<rect x="285.16" y="143.70" width="5.2" height="8.6" fill="#64a6df"/>
<rect x="291.12" y="143.70" width="5.2" height="8.6" fill="#64a6df"/>
<rect x="297.07" y="143.70" width="5.2" height="8.6" fill="#c2c0c6"/>
<rect x="303.02" y="143.70" width="5.2" height="8.6" fill="#64a6df"/>
<rect x="308.98" y="143.70" width="5.2" height="8.6" fill="#64a6df"/>
<rect x="314.93" y="143.70" width="5.2" height="8.6" fill="#64a6df"/>
<rect x="320.88" y="143.70" width="5.2" height="8.6" fill="#c2c0c6"/>
<rect x="326.83" y="143.70" width="5.2" height="8.6" fill="#c2c0c6"/>
<rect x="332.79" y="143.70" width="5.2" height="8.6" fill="#64a6df"/>
<rect x="338.74" y="143.70" width="5.2" height="8.6" fill="#64a6df"/>
<rect x="344.69" y="143.70" width="5.2" height="8.6" fill="#64a6df"/>
<rect x="350.65" y="143.70" width="5.2" height="8.6" fill="#64a6df"/>
<rect x="356.60" y="143.70" width="5.2" height="8.6" fill="#64a6df"/>
<rect x="362.55" y="143.70" width="5.2" height="8.6" fill="#64a6df"/>
<rect x="368.51" y="143.70" width="5.2" height="8.6" fill="#64a6df"/>
<rect x="374.46" y="143.70" width="5.2" height="8.6" fill="#64a6df"/>
<rect x="380.41" y="143.70" width="5.2" height="8.6" fill="#64a6df"/>
<rect x="386.37" y="143.70" width="5.2" height="8.6" fill="#64a6df"/>
<rect x="392.32" y="143.70" width="5.2" height="8.6" fill="#64a6df"/>
<rect x="398.27" y="143.70" width="5.2" height="8.6" fill="#64a6df"/>
<rect x="404.22" y="143.70" width="5.2" height="8.6" fill="#c2c0c6"/>
<rect x="410.18" y="143.70" width="5.2" height="8.6" fill="#64a6df"/>
<rect x="416.13" y="143.70" width="5.2" height="8.6" fill="#64a6df"/>
<rect x="422.08" y="143.70" width="5.2" height="8.6" fill="#64a6df"/>
<rect x="428.04" y="143.70" width="5.2" height="8.6" fill="#64a6df"/>
<text x="55.40" y="150.30" font-size="6.8" fill="#231f20" text-anchor="end" textLength="15.6" lengthAdjust="spacingAndGlyphs" >BCL6</text>
<rect x="58.95" y="153.10" width="5.2" height="8.6" fill="#64a6df"/>
<rect x="70.86" y="153.10" width="5.2" height="8.6" fill="#c2c0c6"/>
<rect x="76.81" y="153.10" width="5.2" height="8.6" fill="#64a6df"/>
<rect x="82.76" y="153.10" width="5.2" height="8.6" fill="#64a6df"/>
<rect x="88.72" y="153.10" width="5.2" height="8.6" fill="#64a6df"/>
<rect x="100.62" y="153.10" width="5.2" height="8.6" fill="#64a6df"/>
<rect x="112.53" y="153.10" width="5.2" height="8.6" fill="#c2c0c6"/>
<rect x="118.48" y="153.10" width="5.2" height="8.6" fill="#64a6df"/>
<rect x="124.43" y="153.10" width="5.2" height="8.6" fill="#64a6df"/>
<rect x="130.39" y="153.10" width="5.2" height="8.6" fill="#64a6df"/>
<rect x="142.29" y="153.10" width="5.2" height="8.6" fill="#64a6df"/>
<rect x="148.25" y="153.10" width="5.2" height="8.6" fill="#64a6df"/>
<rect x="166.10" y="153.10" width="5.2" height="8.6" fill="#64a6df"/>
<rect x="172.06" y="153.10" width="5.2" height="8.6" fill="#c2c0c6"/>
<rect x="178.01" y="153.10" width="5.2" height="8.6" fill="#64a6df"/>
<rect x="183.96" y="153.10" width="5.2" height="8.6" fill="#64a6df"/>
<rect x="189.92" y="153.10" width="5.2" height="8.6" fill="#64a6df"/>
<rect x="195.87" y="153.10" width="5.2" height="8.6" fill="#64a6df"/>
<rect x="207.78" y="153.10" width="5.2" height="8.6" fill="#64a6df"/>
<rect x="213.73" y="153.10" width="5.2" height="8.6" fill="#64a6df"/>
<rect x="219.68" y="153.10" width="5.2" height="8.6" fill="#64a6df"/>
<rect x="225.63" y="153.10" width="5.2" height="8.6" fill="#64a6df"/>
<rect x="231.59" y="153.10" width="5.2" height="8.6" fill="#64a6df"/>
<rect x="237.54" y="153.10" width="5.2" height="8.6" fill="#64a6df"/>
<rect x="243.49" y="153.10" width="5.2" height="8.6" fill="#64a6df"/>
<rect x="249.45" y="153.10" width="5.2" height="8.6" fill="#c2c0c6"/>
<rect x="255.40" y="153.10" width="5.2" height="8.6" fill="#c2c0c6"/>
<rect x="261.35" y="153.10" width="5.2" height="8.6" fill="#64a6df"/>
<rect x="291.12" y="153.10" width="5.2" height="8.6" fill="#c2c0c6"/>
<rect x="297.07" y="153.10" width="5.2" height="8.6" fill="#64a6df"/>
<rect x="303.02" y="153.10" width="5.2" height="8.6" fill="#64a6df"/>
<rect x="308.98" y="153.10" width="5.2" height="8.6" fill="#c2c0c6"/>
<rect x="326.83" y="153.10" width="5.2" height="8.6" fill="#64a6df"/>
<rect x="332.79" y="153.10" width="5.2" height="8.6" fill="#64a6df"/>
<rect x="338.74" y="153.10" width="5.2" height="8.6" fill="#64a6df"/>
<rect x="344.69" y="153.10" width="5.2" height="8.6" fill="#64a6df"/>
<rect x="350.65" y="153.10" width="5.2" height="8.6" fill="#64a6df"/>
<rect x="356.60" y="153.10" width="5.2" height="8.6" fill="#64a6df"/>
<rect x="362.55" y="153.10" width="5.2" height="8.6" fill="#64a6df"/>
<rect x="368.51" y="153.10" width="5.2" height="8.6" fill="#64a6df"/>
<rect x="374.46" y="153.10" width="5.2" height="8.6" fill="#c2c0c6"/>
<rect x="380.41" y="153.10" width="5.2" height="8.6" fill="#64a6df"/>
<rect x="398.27" y="153.10" width="5.2" height="8.6" fill="#64a6df"/>
<rect x="410.18" y="153.10" width="5.2" height="8.6" fill="#64a6df"/>
<rect x="416.13" y="153.10" width="5.2" height="8.6" fill="#64a6df"/>
<rect x="422.08" y="153.10" width="5.2" height="8.6" fill="#64a6df"/>
<rect x="428.04" y="153.10" width="5.2" height="8.6" fill="#64a6df"/>
<text x="55.40" y="159.70" font-size="6.8" fill="#231f20" text-anchor="end" textLength="15.2" lengthAdjust="spacingAndGlyphs" >KI-67</text>
<rect x="58.95" y="162.50" width="5.2" height="8.6" fill="#64a6df"/>
<rect x="64.90" y="162.50" width="5.2" height="8.6" fill="#c2c0c6"/>
<rect x="76.81" y="162.50" width="5.2" height="8.6" fill="#64a6df"/>
<rect x="82.76" y="162.50" width="5.2" height="8.6" fill="#64a6df"/>
<rect x="88.72" y="162.50" width="5.2" height="8.6" fill="#64a6df"/>
<rect x="94.67" y="162.50" width="5.2" height="8.6" fill="#c2c0c6"/>
<rect x="100.62" y="162.50" width="5.2" height="8.6" fill="#c2c0c6"/>
<rect x="106.57" y="162.50" width="5.2" height="8.6" fill="#64a6df"/>
<rect x="112.53" y="162.50" width="5.2" height="8.6" fill="#c2c0c6"/>
<rect x="118.48" y="162.50" width="5.2" height="8.6" fill="#c2c0c6"/>
<rect x="124.43" y="162.50" width="5.2" height="8.6" fill="#64a6df"/>
<rect x="130.39" y="162.50" width="5.2" height="8.6" fill="#c2c0c6"/>
<rect x="136.34" y="162.50" width="5.2" height="8.6" fill="#64a6df"/>
<rect x="142.29" y="162.50" width="5.2" height="8.6" fill="#64a6df"/>
<rect x="148.25" y="162.50" width="5.2" height="8.6" fill="#64a6df"/>
<rect x="154.20" y="162.50" width="5.2" height="8.6" fill="#c2c0c6"/>
<rect x="160.15" y="162.50" width="5.2" height="8.6" fill="#c2c0c6"/>
<rect x="166.10" y="162.50" width="5.2" height="8.6" fill="#c2c0c6"/>
<rect x="172.06" y="162.50" width="5.2" height="8.6" fill="#64a6df"/>
<rect x="178.01" y="162.50" width="5.2" height="8.6" fill="#c2c0c6"/>
<rect x="183.96" y="162.50" width="5.2" height="8.6" fill="#64a6df"/>
<rect x="189.92" y="162.50" width="5.2" height="8.6" fill="#c2c0c6"/>
<rect x="195.87" y="162.50" width="5.2" height="8.6" fill="#64a6df"/>
<rect x="207.78" y="162.50" width="5.2" height="8.6" fill="#c2c0c6"/>
<rect x="213.73" y="162.50" width="5.2" height="8.6" fill="#64a6df"/>
<rect x="219.68" y="162.50" width="5.2" height="8.6" fill="#64a6df"/>
<rect x="225.63" y="162.50" width="5.2" height="8.6" fill="#c2c0c6"/>
<rect x="231.59" y="162.50" width="5.2" height="8.6" fill="#c2c0c6"/>
<rect x="237.54" y="162.50" width="5.2" height="8.6" fill="#c2c0c6"/>
<rect x="243.49" y="162.50" width="5.2" height="8.6" fill="#64a6df"/>
<rect x="249.45" y="162.50" width="5.2" height="8.6" fill="#64a6df"/>
<rect x="261.35" y="162.50" width="5.2" height="8.6" fill="#64a6df"/>
<rect x="273.26" y="162.50" width="5.2" height="8.6" fill="#c2c0c6"/>
<rect x="279.21" y="162.50" width="5.2" height="8.6" fill="#64a6df"/>
<rect x="285.16" y="162.50" width="5.2" height="8.6" fill="#c2c0c6"/>
<rect x="303.02" y="162.50" width="5.2" height="8.6" fill="#64a6df"/>
<rect x="308.98" y="162.50" width="5.2" height="8.6" fill="#64a6df"/>
<rect x="320.88" y="162.50" width="5.2" height="8.6" fill="#c2c0c6"/>
<rect x="326.83" y="162.50" width="5.2" height="8.6" fill="#64a6df"/>
<rect x="332.79" y="162.50" width="5.2" height="8.6" fill="#c2c0c6"/>
<rect x="338.74" y="162.50" width="5.2" height="8.6" fill="#64a6df"/>
<rect x="344.69" y="162.50" width="5.2" height="8.6" fill="#c2c0c6"/>
<rect x="350.65" y="162.50" width="5.2" height="8.6" fill="#64a6df"/>
<rect x="356.60" y="162.50" width="5.2" height="8.6" fill="#64a6df"/>
<rect x="362.55" y="162.50" width="5.2" height="8.6" fill="#64a6df"/>
<rect x="368.51" y="162.50" width="5.2" height="8.6" fill="#c2c0c6"/>
<rect x="374.46" y="162.50" width="5.2" height="8.6" fill="#64a6df"/>
<rect x="380.41" y="162.50" width="5.2" height="8.6" fill="#64a6df"/>
<rect x="386.37" y="162.50" width="5.2" height="8.6" fill="#c2c0c6"/>
<rect x="392.32" y="162.50" width="5.2" height="8.6" fill="#c2c0c6"/>
<rect x="398.27" y="162.50" width="5.2" height="8.6" fill="#64a6df"/>
<rect x="404.22" y="162.50" width="5.2" height="8.6" fill="#64a6df"/>
<rect x="410.18" y="162.50" width="5.2" height="8.6" fill="#64a6df"/>
<rect x="416.13" y="162.50" width="5.2" height="8.6" fill="#64a6df"/>
<rect x="422.08" y="162.50" width="5.2" height="8.6" fill="#64a6df"/>
<rect x="428.04" y="162.50" width="5.2" height="8.6" fill="#c2c0c6"/>
<text x="55.40" y="169.10" font-size="6.8" fill="#231f20" text-anchor="end" textLength="15.6" lengthAdjust="spacingAndGlyphs" >BCL2</text>
<rect x="58.95" y="171.90" width="5.2" height="8.6" fill="#64a6df"/>
<rect x="70.86" y="171.90" width="5.2" height="8.6" fill="#64a6df"/>
<rect x="76.81" y="171.90" width="5.2" height="8.6" fill="#64a6df"/>
<rect x="82.76" y="171.90" width="5.2" height="8.6" fill="#64a6df"/>
<rect x="88.72" y="171.90" width="5.2" height="8.6" fill="#64a6df"/>
<rect x="94.67" y="171.90" width="5.2" height="8.6" fill="#64a6df"/>
<rect x="100.62" y="171.90" width="5.2" height="8.6" fill="#64a6df"/>
<rect x="106.57" y="171.90" width="5.2" height="8.6" fill="#64a6df"/>
<rect x="112.53" y="171.90" width="5.2" height="8.6" fill="#64a6df"/>
<rect x="118.48" y="171.90" width="5.2" height="8.6" fill="#64a6df"/>
<rect x="124.43" y="171.90" width="5.2" height="8.6" fill="#64a6df"/>
<rect x="130.39" y="171.90" width="5.2" height="8.6" fill="#64a6df"/>
<rect x="136.34" y="171.90" width="5.2" height="8.6" fill="#64a6df"/>
<rect x="142.29" y="171.90" width="5.2" height="8.6" fill="#64a6df"/>
<rect x="148.25" y="171.90" width="5.2" height="8.6" fill="#64a6df"/>
<rect x="154.20" y="171.90" width="5.2" height="8.6" fill="#64a6df"/>
<rect x="160.15" y="171.90" width="5.2" height="8.6" fill="#64a6df"/>
<rect x="166.10" y="171.90" width="5.2" height="8.6" fill="#64a6df"/>
<rect x="172.06" y="171.90" width="5.2" height="8.6" fill="#64a6df"/>
<rect x="178.01" y="171.90" width="5.2" height="8.6" fill="#64a6df"/>
<rect x="183.96" y="171.90" width="5.2" height="8.6" fill="#64a6df"/>
<rect x="195.87" y="171.90" width="5.2" height="8.6" fill="#64a6df"/>
<rect x="207.78" y="171.90" width="5.2" height="8.6" fill="#64a6df"/>
<rect x="219.68" y="171.90" width="5.2" height="8.6" fill="#64a6df"/>
<rect x="225.63" y="171.90" width="5.2" height="8.6" fill="#64a6df"/>
<rect x="231.59" y="171.90" width="5.2" height="8.6" fill="#64a6df"/>
<rect x="237.54" y="171.90" width="5.2" height="8.6" fill="#64a6df"/>
<rect x="243.49" y="171.90" width="5.2" height="8.6" fill="#64a6df"/>
<rect x="249.45" y="171.90" width="5.2" height="8.6" fill="#64a6df"/>
<rect x="255.40" y="171.90" width="5.2" height="8.6" fill="#64a6df"/>
<rect x="261.35" y="171.90" width="5.2" height="8.6" fill="#64a6df"/>
<rect x="273.26" y="171.90" width="5.2" height="8.6" fill="#64a6df"/>
<rect x="279.21" y="171.90" width="5.2" height="8.6" fill="#64a6df"/>
<rect x="297.07" y="171.90" width="5.2" height="8.6" fill="#64a6df"/>
<rect x="303.02" y="171.90" width="5.2" height="8.6" fill="#64a6df"/>
<rect x="308.98" y="171.90" width="5.2" height="8.6" fill="#64a6df"/>
<rect x="320.88" y="171.90" width="5.2" height="8.6" fill="#64a6df"/>
<rect x="326.83" y="171.90" width="5.2" height="8.6" fill="#64a6df"/>
<rect x="332.79" y="171.90" width="5.2" height="8.6" fill="#64a6df"/>
<rect x="338.74" y="171.90" width="5.2" height="8.6" fill="#64a6df"/>
<rect x="344.69" y="171.90" width="5.2" height="8.6" fill="#64a6df"/>
<rect x="350.65" y="171.90" width="5.2" height="8.6" fill="#64a6df"/>
<rect x="356.60" y="171.90" width="5.2" height="8.6" fill="#64a6df"/>
<rect x="362.55" y="171.90" width="5.2" height="8.6" fill="#64a6df"/>
<rect x="368.51" y="171.90" width="5.2" height="8.6" fill="#64a6df"/>
<rect x="374.46" y="171.90" width="5.2" height="8.6" fill="#64a6df"/>
<rect x="380.41" y="171.90" width="5.2" height="8.6" fill="#64a6df"/>
<rect x="386.37" y="171.90" width="5.2" height="8.6" fill="#64a6df"/>
<rect x="392.32" y="171.90" width="5.2" height="8.6" fill="#64a6df"/>
<rect x="398.27" y="171.90" width="5.2" height="8.6" fill="#64a6df"/>
<rect x="410.18" y="171.90" width="5.2" height="8.6" fill="#64a6df"/>
<rect x="416.13" y="171.90" width="5.2" height="8.6" fill="#64a6df"/>
<rect x="422.08" y="171.90" width="5.2" height="8.6" fill="#64a6df"/>
<text x="55.40" y="178.50" font-size="6.8" fill="#231f20" text-anchor="end" textLength="16.4" lengthAdjust="spacingAndGlyphs" >CD20</text>
<rect x="58.95" y="187.90" width="5.2" height="8.6" fill="#c2c0c6"/>
<rect x="70.86" y="187.90" width="5.2" height="8.6" fill="#c2c0c6"/>
<rect x="76.81" y="187.90" width="5.2" height="8.6" fill="#c2c0c6"/>
<rect x="82.76" y="187.90" width="5.2" height="8.6" fill="#c2c0c6"/>
<rect x="100.62" y="187.90" width="5.2" height="8.6" fill="#c2c0c6"/>
<rect x="112.53" y="187.90" width="5.2" height="8.6" fill="#c2c0c6"/>
<rect x="124.43" y="187.90" width="5.2" height="8.6" fill="#c2c0c6"/>
<rect x="130.39" y="187.90" width="5.2" height="8.6" fill="#c2c0c6"/>
<rect x="142.29" y="187.90" width="5.2" height="8.6" fill="#c2c0c6"/>
<rect x="148.25" y="187.90" width="5.2" height="8.6" fill="#c2c0c6"/>
<rect x="166.10" y="187.90" width="5.2" height="8.6" fill="#c2c0c6"/>
<rect x="172.06" y="187.90" width="5.2" height="8.6" fill="#c2c0c6"/>
<rect x="178.01" y="187.90" width="5.2" height="8.6" fill="#c2c0c6"/>
<rect x="183.96" y="187.90" width="5.2" height="8.6" fill="#c2c0c6"/>
<rect x="189.92" y="187.90" width="5.2" height="8.6" fill="#64a6df"/>
<rect x="195.87" y="187.90" width="5.2" height="8.6" fill="#64a6df"/>
<rect x="207.78" y="187.90" width="5.2" height="8.6" fill="#c2c0c6"/>
<rect x="219.68" y="187.90" width="5.2" height="8.6" fill="#c2c0c6"/>
<rect x="225.63" y="187.90" width="5.2" height="8.6" fill="#c2c0c6"/>
<rect x="231.59" y="187.90" width="5.2" height="8.6" fill="#c2c0c6"/>
<rect x="237.54" y="187.90" width="5.2" height="8.6" fill="#c2c0c6"/>
<rect x="243.49" y="187.90" width="5.2" height="8.6" fill="#c2c0c6"/>
<rect x="249.45" y="187.90" width="5.2" height="8.6" fill="#c2c0c6"/>
<rect x="255.40" y="187.90" width="5.2" height="8.6" fill="#c2c0c6"/>
<rect x="267.31" y="187.90" width="5.2" height="8.6" fill="#c2c0c6"/>
<rect x="273.26" y="187.90" width="5.2" height="8.6" fill="#c2c0c6"/>
<rect x="279.21" y="187.90" width="5.2" height="8.6" fill="#c2c0c6"/>
<rect x="291.12" y="187.90" width="5.2" height="8.6" fill="#c2c0c6"/>
<rect x="297.07" y="187.90" width="5.2" height="8.6" fill="#64a6df"/>
<rect x="303.02" y="187.90" width="5.2" height="8.6" fill="#c2c0c6"/>
<rect x="308.98" y="187.90" width="5.2" height="8.6" fill="#c2c0c6"/>
<rect x="314.93" y="187.90" width="5.2" height="8.6" fill="#c2c0c6"/>
<rect x="320.88" y="187.90" width="5.2" height="8.6" fill="#64a6df"/>
<rect x="332.79" y="187.90" width="5.2" height="8.6" fill="#c2c0c6"/>
<rect x="338.74" y="187.90" width="5.2" height="8.6" fill="#c2c0c6"/>
<rect x="344.69" y="187.90" width="5.2" height="8.6" fill="#64a6df"/>
<rect x="350.65" y="187.90" width="5.2" height="8.6" fill="#c2c0c6"/>
<rect x="356.60" y="187.90" width="5.2" height="8.6" fill="#64a6df"/>
<rect x="362.55" y="187.90" width="5.2" height="8.6" fill="#c2c0c6"/>
<rect x="368.51" y="187.90" width="5.2" height="8.6" fill="#c2c0c6"/>
<rect x="374.46" y="187.90" width="5.2" height="8.6" fill="#c2c0c6"/>
<rect x="380.41" y="187.90" width="5.2" height="8.6" fill="#c2c0c6"/>
<rect x="392.32" y="187.90" width="5.2" height="8.6" fill="#c2c0c6"/>
<rect x="398.27" y="187.90" width="5.2" height="8.6" fill="#c2c0c6"/>
<rect x="404.22" y="187.90" width="5.2" height="8.6" fill="#64a6df"/>
<rect x="410.18" y="187.90" width="5.2" height="8.6" fill="#c2c0c6"/>
<rect x="422.08" y="187.90" width="5.2" height="8.6" fill="#c2c0c6"/>
<text x="55.40" y="194.50" font-size="6.8" fill="#231f20" text-anchor="end" textLength="11.9" lengthAdjust="spacingAndGlyphs" >EBV</text>
<rect x="58.95" y="197.30" width="5.2" height="8.6" fill="#c2c0c6"/>
<rect x="70.86" y="197.30" width="5.2" height="8.6" fill="#c2c0c6"/>
<rect x="76.81" y="197.30" width="5.2" height="8.6" fill="#c2c0c6"/>
<rect x="82.76" y="197.30" width="5.2" height="8.6" fill="#c2c0c6"/>
<rect x="88.72" y="197.30" width="5.2" height="8.6" fill="#c2c0c6"/>
<rect x="100.62" y="197.30" width="5.2" height="8.6" fill="#c2c0c6"/>
<rect x="106.57" y="197.30" width="5.2" height="8.6" fill="#c2c0c6"/>
<rect x="112.53" y="197.30" width="5.2" height="8.6" fill="#c2c0c6"/>
<rect x="118.48" y="197.30" width="5.2" height="8.6" fill="#c2c0c6"/>
<rect x="124.43" y="197.30" width="5.2" height="8.6" fill="#c2c0c6"/>
<rect x="130.39" y="197.30" width="5.2" height="8.6" fill="#c2c0c6"/>
<rect x="148.25" y="197.30" width="5.2" height="8.6" fill="#c2c0c6"/>
<rect x="166.10" y="197.30" width="5.2" height="8.6" fill="#c2c0c6"/>
<rect x="178.01" y="197.30" width="5.2" height="8.6" fill="#c2c0c6"/>
<rect x="183.96" y="197.30" width="5.2" height="8.6" fill="#c2c0c6"/>
<rect x="195.87" y="197.30" width="5.2" height="8.6" fill="#c2c0c6"/>
<rect x="201.82" y="197.30" width="5.2" height="8.6" fill="#c2c0c6"/>
<rect x="207.78" y="197.30" width="5.2" height="8.6" fill="#c2c0c6"/>
<rect x="213.73" y="197.30" width="5.2" height="8.6" fill="#64a6df"/>
<rect x="219.68" y="197.30" width="5.2" height="8.6" fill="#c2c0c6"/>
<rect x="225.63" y="197.30" width="5.2" height="8.6" fill="#64a6df"/>
<rect x="231.59" y="197.30" width="5.2" height="8.6" fill="#c2c0c6"/>
<rect x="237.54" y="197.30" width="5.2" height="8.6" fill="#64a6df"/>
<rect x="243.49" y="197.30" width="5.2" height="8.6" fill="#64a6df"/>
<rect x="255.40" y="197.30" width="5.2" height="8.6" fill="#c2c0c6"/>
<rect x="261.35" y="197.30" width="5.2" height="8.6" fill="#c2c0c6"/>
<rect x="279.21" y="197.30" width="5.2" height="8.6" fill="#c2c0c6"/>
<rect x="285.16" y="197.30" width="5.2" height="8.6" fill="#c2c0c6"/>
<rect x="291.12" y="197.30" width="5.2" height="8.6" fill="#c2c0c6"/>
<rect x="297.07" y="197.30" width="5.2" height="8.6" fill="#c2c0c6"/>
<rect x="303.02" y="197.30" width="5.2" height="8.6" fill="#c2c0c6"/>
<rect x="308.98" y="197.30" width="5.2" height="8.6" fill="#c2c0c6"/>
<rect x="314.93" y="197.30" width="5.2" height="8.6" fill="#c2c0c6"/>
<rect x="320.88" y="197.30" width="5.2" height="8.6" fill="#c2c0c6"/>
<rect x="326.83" y="197.30" width="5.2" height="8.6" fill="#c2c0c6"/>
<rect x="332.79" y="197.30" width="5.2" height="8.6" fill="#c2c0c6"/>
<rect x="344.69" y="197.30" width="5.2" height="8.6" fill="#c2c0c6"/>
<rect x="350.65" y="197.30" width="5.2" height="8.6" fill="#64a6df"/>
<rect x="362.55" y="197.30" width="5.2" height="8.6" fill="#64a6df"/>
<rect x="368.51" y="197.30" width="5.2" height="8.6" fill="#c2c0c6"/>
<rect x="374.46" y="197.30" width="5.2" height="8.6" fill="#c2c0c6"/>
<rect x="380.41" y="197.30" width="5.2" height="8.6" fill="#c2c0c6"/>
<rect x="386.37" y="197.30" width="5.2" height="8.6" fill="#c2c0c6"/>
<rect x="398.27" y="197.30" width="5.2" height="8.6" fill="#c2c0c6"/>
<rect x="410.18" y="197.30" width="5.2" height="8.6" fill="#64a6df"/>
<rect x="416.13" y="197.30" width="5.2" height="8.6" fill="#c2c0c6"/>
<rect x="422.08" y="197.30" width="5.2" height="8.6" fill="#c2c0c6"/>
<rect x="428.04" y="197.30" width="5.2" height="8.6" fill="#c2c0c6"/>
<text x="55.40" y="203.90" font-size="6.8" fill="#231f20" text-anchor="end" textLength="29.7" lengthAdjust="spacingAndGlyphs" >FISH <tspan font-style="italic">MYC</tspan></text>
<rect x="58.95" y="206.70" width="5.2" height="8.6" fill="#c2c0c6"/>
<rect x="76.81" y="206.70" width="5.2" height="8.6" fill="#c2c0c6"/>
<rect x="82.76" y="206.70" width="5.2" height="8.6" fill="#c2c0c6"/>
<rect x="88.72" y="206.70" width="5.2" height="8.6" fill="#c2c0c6"/>
<rect x="100.62" y="206.70" width="5.2" height="8.6" fill="#c2c0c6"/>
<rect x="106.57" y="206.70" width="5.2" height="8.6" fill="#c2c0c6"/>
<rect x="112.53" y="206.70" width="5.2" height="8.6" fill="#c2c0c6"/>
<rect x="118.48" y="206.70" width="5.2" height="8.6" fill="#c2c0c6"/>
<rect x="124.43" y="206.70" width="5.2" height="8.6" fill="#c2c0c6"/>
<rect x="148.25" y="206.70" width="5.2" height="8.6" fill="#c2c0c6"/>
<rect x="183.96" y="206.70" width="5.2" height="8.6" fill="#c2c0c6"/>
<rect x="195.87" y="206.70" width="5.2" height="8.6" fill="#c2c0c6"/>
<rect x="213.73" y="206.70" width="5.2" height="8.6" fill="#c2c0c6"/>
<rect x="219.68" y="206.70" width="5.2" height="8.6" fill="#c2c0c6"/>
<rect x="225.63" y="206.70" width="5.2" height="8.6" fill="#c2c0c6"/>
<rect x="231.59" y="206.70" width="5.2" height="8.6" fill="#c2c0c6"/>
<rect x="243.49" y="206.70" width="5.2" height="8.6" fill="#c2c0c6"/>
<rect x="255.40" y="206.70" width="5.2" height="8.6" fill="#c2c0c6"/>
<rect x="261.35" y="206.70" width="5.2" height="8.6" fill="#c2c0c6"/>
<rect x="279.21" y="206.70" width="5.2" height="8.6" fill="#c2c0c6"/>
<rect x="285.16" y="206.70" width="5.2" height="8.6" fill="#64a6df"/>
<rect x="291.12" y="206.70" width="5.2" height="8.6" fill="#c2c0c6"/>
<rect x="297.07" y="206.70" width="5.2" height="8.6" fill="#c2c0c6"/>
<rect x="303.02" y="206.70" width="5.2" height="8.6" fill="#c2c0c6"/>
<rect x="308.98" y="206.70" width="5.2" height="8.6" fill="#c2c0c6"/>
<rect x="314.93" y="206.70" width="5.2" height="8.6" fill="#c2c0c6"/>
<rect x="326.83" y="206.70" width="5.2" height="8.6" fill="#c2c0c6"/>
<rect x="332.79" y="206.70" width="5.2" height="8.6" fill="#c2c0c6"/>
<rect x="338.74" y="206.70" width="5.2" height="8.6" fill="#c2c0c6"/>
<rect x="344.69" y="206.70" width="5.2" height="8.6" fill="#c2c0c6"/>
<rect x="350.65" y="206.70" width="5.2" height="8.6" fill="#c2c0c6"/>
<rect x="356.60" y="206.70" width="5.2" height="8.6" fill="#c2c0c6"/>
<rect x="362.55" y="206.70" width="5.2" height="8.6" fill="#c2c0c6"/>
<rect x="374.46" y="206.70" width="5.2" height="8.6" fill="#c2c0c6"/>
<rect x="380.41" y="206.70" width="5.2" height="8.6" fill="#c2c0c6"/>
<rect x="386.37" y="206.70" width="5.2" height="8.6" fill="#c2c0c6"/>
<rect x="398.27" y="206.70" width="5.2" height="8.6" fill="#c2c0c6"/>
<rect x="410.18" y="206.70" width="5.2" height="8.6" fill="#c2c0c6"/>
<rect x="416.13" y="206.70" width="5.2" height="8.6" fill="#c2c0c6"/>
<rect x="422.08" y="206.70" width="5.2" height="8.6" fill="#c2c0c6"/>
<rect x="428.04" y="206.70" width="5.2" height="8.6" fill="#c2c0c6"/>
<text x="55.40" y="213.30" font-size="6.8" fill="#231f20" text-anchor="end" textLength="31" lengthAdjust="spacingAndGlyphs" >FISH <tspan font-style="italic">BCL2</tspan></text>
<rect x="58.95" y="216.00" width="5.2" height="8.6" fill="#c2c0c6"/>
<rect x="76.81" y="216.00" width="5.2" height="8.6" fill="#c2c0c6"/>
<rect x="82.76" y="216.00" width="5.2" height="8.6" fill="#c2c0c6"/>
<rect x="88.72" y="216.00" width="5.2" height="8.6" fill="#c2c0c6"/>
<rect x="100.62" y="216.00" width="5.2" height="8.6" fill="#c2c0c6"/>
<rect x="106.57" y="216.00" width="5.2" height="8.6" fill="#c2c0c6"/>
<rect x="112.53" y="216.00" width="5.2" height="8.6" fill="#c2c0c6"/>
<rect x="118.48" y="216.00" width="5.2" height="8.6" fill="#c2c0c6"/>
<rect x="124.43" y="216.00" width="5.2" height="8.6" fill="#c2c0c6"/>
<rect x="148.25" y="216.00" width="5.2" height="8.6" fill="#c2c0c6"/>
<rect x="166.10" y="216.00" width="5.2" height="8.6" fill="#c2c0c6"/>
<rect x="183.96" y="216.00" width="5.2" height="8.6" fill="#64a6df"/>
<rect x="195.87" y="216.00" width="5.2" height="8.6" fill="#c2c0c6"/>
<rect x="219.68" y="216.00" width="5.2" height="8.6" fill="#c2c0c6"/>
<rect x="225.63" y="216.00" width="5.2" height="8.6" fill="#c2c0c6"/>
<rect x="231.59" y="216.00" width="5.2" height="8.6" fill="#c2c0c6"/>
<rect x="243.49" y="216.00" width="5.2" height="8.6" fill="#c2c0c6"/>
<rect x="249.45" y="216.00" width="5.2" height="8.6" fill="#c2c0c6"/>
<rect x="255.40" y="216.00" width="5.2" height="8.6" fill="#c2c0c6"/>
<rect x="261.35" y="216.00" width="5.2" height="8.6" fill="#c2c0c6"/>
<rect x="279.21" y="216.00" width="5.2" height="8.6" fill="#64a6df"/>
<rect x="285.16" y="216.00" width="5.2" height="8.6" fill="#64a6df"/>
<rect x="291.12" y="216.00" width="5.2" height="8.6" fill="#c2c0c6"/>
<rect x="297.07" y="216.00" width="5.2" height="8.6" fill="#c2c0c6"/>
<rect x="303.02" y="216.00" width="5.2" height="8.6" fill="#c2c0c6"/>
<rect x="314.93" y="216.00" width="5.2" height="8.6" fill="#c2c0c6"/>
<rect x="326.83" y="216.00" width="5.2" height="8.6" fill="#c2c0c6"/>
<rect x="332.79" y="216.00" width="5.2" height="8.6" fill="#c2c0c6"/>
<rect x="338.74" y="216.00" width="5.2" height="8.6" fill="#c2c0c6"/>
<rect x="344.69" y="216.00" width="5.2" height="8.6" fill="#c2c0c6"/>
<rect x="350.65" y="216.00" width="5.2" height="8.6" fill="#c2c0c6"/>
<rect x="362.55" y="216.00" width="5.2" height="8.6" fill="#c2c0c6"/>
<rect x="368.51" y="216.00" width="5.2" height="8.6" fill="#c2c0c6"/>
<rect x="374.46" y="216.00" width="5.2" height="8.6" fill="#c2c0c6"/>
<rect x="380.41" y="216.00" width="5.2" height="8.6" fill="#c2c0c6"/>
<rect x="386.37" y="216.00" width="5.2" height="8.6" fill="#c2c0c6"/>
<rect x="398.27" y="216.00" width="5.2" height="8.6" fill="#c2c0c6"/>
<rect x="410.18" y="216.00" width="5.2" height="8.6" fill="#c2c0c6"/>
<rect x="416.13" y="216.00" width="5.2" height="8.6" fill="#c2c0c6"/>
<rect x="422.08" y="216.00" width="5.2" height="8.6" fill="#c2c0c6"/>
<rect x="428.04" y="216.00" width="5.2" height="8.6" fill="#c2c0c6"/>
<text x="55.40" y="222.60" font-size="6.8" fill="#231f20" text-anchor="end" textLength="31" lengthAdjust="spacingAndGlyphs" >FISH <tspan font-style="italic">BCL6</tspan></text>
<rect x="58.95" y="225.30" width="5.2" height="8.6" fill="#64a6df"/>
<rect x="64.90" y="225.30" width="5.2" height="8.6" fill="#64a6df"/>
<rect x="70.86" y="225.30" width="5.2" height="8.6" fill="#64a6df"/>
<rect x="76.81" y="225.30" width="5.2" height="8.6" fill="#64a6df"/>
<rect x="82.76" y="225.30" width="5.2" height="8.6" fill="#64a6df"/>
<rect x="88.72" y="225.30" width="5.2" height="8.6" fill="#c2c0c6"/>
<rect x="94.67" y="225.30" width="5.2" height="8.6" fill="#64a6df"/>
<rect x="100.62" y="225.30" width="5.2" height="8.6" fill="#64a6df"/>
<rect x="106.57" y="225.30" width="5.2" height="8.6" fill="#64a6df"/>
<rect x="112.53" y="225.30" width="5.2" height="8.6" fill="#64a6df"/>
<rect x="118.48" y="225.30" width="5.2" height="8.6" fill="#64a6df"/>
<rect x="124.43" y="225.30" width="5.2" height="8.6" fill="#64a6df"/>
<rect x="130.39" y="225.30" width="5.2" height="8.6" fill="#64a6df"/>
<rect x="136.34" y="225.30" width="5.2" height="8.6" fill="#64a6df"/>
<rect x="142.29" y="225.30" width="5.2" height="8.6" fill="#64a6df"/>
<rect x="148.25" y="225.30" width="5.2" height="8.6" fill="#c2c0c6"/>
<rect x="154.20" y="225.30" width="5.2" height="8.6" fill="#64a6df"/>
<rect x="160.15" y="225.30" width="5.2" height="8.6" fill="#64a6df"/>
<rect x="166.10" y="225.30" width="5.2" height="8.6" fill="#64a6df"/>
<rect x="178.01" y="225.30" width="5.2" height="8.6" fill="#c2c0c6"/>
<rect x="213.73" y="225.30" width="5.2" height="8.6" fill="#c2c0c6"/>
<rect x="219.68" y="225.30" width="5.2" height="8.6" fill="#c2c0c6"/>
<rect x="225.63" y="225.30" width="5.2" height="8.6" fill="#c2c0c6"/>
<rect x="255.40" y="225.30" width="5.2" height="8.6" fill="#c2c0c6"/>
<rect x="285.16" y="225.30" width="5.2" height="8.6" fill="#c2c0c6"/>
<rect x="291.12" y="225.30" width="5.2" height="8.6" fill="#c2c0c6"/>
<rect x="297.07" y="225.30" width="5.2" height="8.6" fill="#c2c0c6"/>
<rect x="303.02" y="225.30" width="5.2" height="8.6" fill="#c2c0c6"/>
<rect x="314.93" y="225.30" width="5.2" height="8.6" fill="#c2c0c6"/>
<rect x="326.83" y="225.30" width="5.2" height="8.6" fill="#c2c0c6"/>
<rect x="332.79" y="225.30" width="5.2" height="8.6" fill="#c2c0c6"/>
<rect x="338.74" y="225.30" width="5.2" height="8.6" fill="#c2c0c6"/>
<rect x="344.69" y="225.30" width="5.2" height="8.6" fill="#c2c0c6"/>
<rect x="350.65" y="225.30" width="5.2" height="8.6" fill="#c2c0c6"/>
<rect x="362.55" y="225.30" width="5.2" height="8.6" fill="#c2c0c6"/>
<rect x="374.46" y="225.30" width="5.2" height="8.6" fill="#c2c0c6"/>
<rect x="380.41" y="225.30" width="5.2" height="8.6" fill="#c2c0c6"/>
<rect x="386.37" y="225.30" width="5.2" height="8.6" fill="#c2c0c6"/>
<rect x="398.27" y="225.30" width="5.2" height="8.6" fill="#c2c0c6"/>
<rect x="410.18" y="225.30" width="5.2" height="8.6" fill="#c2c0c6"/>
<rect x="422.08" y="225.30" width="5.2" height="8.6" fill="#c2c0c6"/>
<rect x="428.04" y="225.30" width="5.2" height="8.6" fill="#c2c0c6"/>
<text x="55.40" y="231.90" font-size="6.8" fill="#231f20" text-anchor="end" textLength="27.9" lengthAdjust="spacingAndGlyphs" >FISH IRF4</text>
<rect x="64.90" y="234.70" width="5.2" height="8.6" fill="#64a6df"/>
<rect x="70.86" y="234.70" width="5.2" height="8.6" fill="#64a6df"/>
<rect x="88.72" y="234.70" width="5.2" height="8.6" fill="#64a6df"/>
<rect x="100.62" y="234.70" width="5.2" height="8.6" fill="#64a6df"/>
<rect x="148.25" y="234.70" width="5.2" height="8.6" fill="#64a6df"/>
<rect x="160.15" y="234.70" width="5.2" height="8.6" fill="#64a6df"/>
<rect x="178.01" y="234.70" width="5.2" height="8.6" fill="#c2c0c6"/>
<rect x="207.78" y="234.70" width="5.2" height="8.6" fill="#c2c0c6"/>
<rect x="231.59" y="234.70" width="5.2" height="8.6" fill="#c2c0c6"/>
<rect x="249.45" y="234.70" width="5.2" height="8.6" fill="#c2c0c6"/>
<rect x="261.35" y="234.70" width="5.2" height="8.6" fill="#c2c0c6"/>
<rect x="285.16" y="234.70" width="5.2" height="8.6" fill="#64a6df"/>
<rect x="297.07" y="234.70" width="5.2" height="8.6" fill="#c2c0c6"/>
<rect x="320.88" y="234.70" width="5.2" height="8.6" fill="#c2c0c6"/>
<rect x="326.83" y="234.70" width="5.2" height="8.6" fill="#c2c0c6"/>
<rect x="362.55" y="234.70" width="5.2" height="8.6" fill="#64a6df"/>
<rect x="368.51" y="234.70" width="5.2" height="8.6" fill="#c2c0c6"/>
<rect x="374.46" y="234.70" width="5.2" height="8.6" fill="#c2c0c6"/>
<rect x="380.41" y="234.70" width="5.2" height="8.6" fill="#c2c0c6"/>
<rect x="422.08" y="234.70" width="5.2" height="8.6" fill="#c2c0c6"/>
<rect x="428.04" y="234.70" width="5.2" height="8.6" fill="#c2c0c6"/>
<text x="55.40" y="241.30" font-size="6.8" fill="#231f20" text-anchor="end" textLength="26.7" lengthAdjust="spacingAndGlyphs" >FISH IGH</text>
<rect x="441.50" y="21.45" width="21.43" height="5.6" fill="#66a741"/>
<rect x="462.93" y="21.45" width="12.86" height="5.6" fill="#e9b91a"/>
<rect x="475.79" y="21.45" width="33.21" height="5.6" fill="#64a6df"/>
<rect x="441.50" y="30.80" width="18.21" height="5.6" fill="#25437b"/>
<rect x="459.71" y="30.80" width="49.29" height="5.6" fill="#64a6df"/>
<rect x="441.50" y="40.15" width="41.79" height="5.6" fill="#64a6df"/>
<rect x="483.29" y="40.15" width="25.71" height="5.6" fill="#c2c0c6"/>
<rect x="441.50" y="49.45" width="36.43" height="5.6" fill="#64a6df"/>
<rect x="477.93" y="49.45" width="19.29" height="5.6" fill="#c2c0c6"/>
<rect x="441.50" y="58.80" width="22.50" height="5.6" fill="#64a6df"/>
<rect x="464.00" y="58.80" width="23.57" height="5.6" fill="#c2c0c6"/>
<rect x="441.50" y="68.15" width="46.07" height="5.6" fill="#64a6df"/>
<rect x="487.57" y="68.15" width="21.43" height="5.6" fill="#c2c0c6"/>
<rect x="441.50" y="77.50" width="30.00" height="5.6" fill="#64a6df"/>
<rect x="471.50" y="77.50" width="30.00" height="5.6" fill="#c2c0c6"/>
<rect x="441.50" y="92.20" width="22.50" height="5.6" fill="#64a6df"/>
<rect x="464.00" y="92.20" width="43.93" height="5.6" fill="#e9b91a"/>
<rect x="441.50" y="101.55" width="6.43" height="5.6" fill="#c80a7e"/>
<rect x="447.93" y="101.55" width="9.64" height="5.6" fill="#64a6df"/>
<rect x="457.57" y="101.55" width="37.50" height="5.6" fill="#e9b91a"/>
<rect x="441.50" y="110.95" width="5.36" height="5.6" fill="#52256a"/>
<rect x="446.86" y="110.95" width="4.29" height="5.6" fill="#a6022b"/>
<rect x="451.14" y="110.95" width="3.21" height="5.6" fill="#c80a7e"/>
<rect x="454.36" y="110.95" width="6.43" height="5.6" fill="#64a6df"/>
<rect x="460.79" y="110.95" width="21.43" height="5.6" fill="#e9b91a"/>
<rect x="441.50" y="126.40" width="37.50" height="5.6" fill="#64a6df"/>
<rect x="479.00" y="126.40" width="28.93" height="5.6" fill="#c2c0c6"/>
<rect x="441.50" y="135.80" width="37.50" height="5.6" fill="#64a6df"/>
<rect x="479.00" y="135.80" width="23.57" height="5.6" fill="#c2c0c6"/>
<rect x="441.50" y="145.20" width="57.86" height="5.6" fill="#64a6df"/>
<rect x="499.36" y="145.20" width="5.36" height="5.6" fill="#c2c0c6"/>
<rect x="441.50" y="154.60" width="41.79" height="5.6" fill="#64a6df"/>
<rect x="483.29" y="154.60" width="8.57" height="5.6" fill="#c2c0c6"/>
<rect x="441.50" y="164.00" width="34.29" height="5.6" fill="#64a6df"/>
<rect x="475.79" y="164.00" width="25.71" height="5.6" fill="#c2c0c6"/>
<rect x="441.50" y="173.40" width="56.79" height="5.6" fill="#64a6df"/>
<rect x="441.50" y="189.40" width="7.50" height="5.6" fill="#64a6df"/>
<rect x="449.00" y="189.40" width="42.86" height="5.6" fill="#c2c0c6"/>
<rect x="441.50" y="198.80" width="7.50" height="5.6" fill="#64a6df"/>
<rect x="449.00" y="198.80" width="43.93" height="5.6" fill="#c2c0c6"/>
<rect x="441.50" y="208.20" width="1.07" height="5.6" fill="#64a6df"/>
<rect x="442.57" y="208.20" width="42.86" height="5.6" fill="#c2c0c6"/>
<rect x="441.50" y="217.50" width="3.21" height="5.6" fill="#64a6df"/>
<rect x="444.71" y="217.50" width="40.71" height="5.6" fill="#c2c0c6"/>
<rect x="441.50" y="226.80" width="18.21" height="5.6" fill="#64a6df"/>
<rect x="459.71" y="226.80" width="26.79" height="5.6" fill="#c2c0c6"/>
<rect x="441.50" y="236.20" width="8.57" height="5.6" fill="#64a6df"/>
<rect x="450.07" y="236.20" width="13.93" height="5.6" fill="#c2c0c6"/>
<rect x="440.25" y="17.2" width="1.5" height="230.8" fill="#1a1a1a"/>
<rect x="440.25" y="246.7" width="72" height="1.2" fill="#1a1a1a"/>
<rect x="440.40" y="247" width="1.2" height="2.6" fill="#1a1a1a"/>
<text x="441.00" y="258.80" font-size="6.5" fill="#231f20" text-anchor="middle" >0</text>
<rect x="475.10" y="247" width="1.2" height="2.6" fill="#1a1a1a"/>
<text x="475.70" y="258.80" font-size="6.5" fill="#231f20" text-anchor="middle" >32</text>
<rect x="509.10" y="247" width="1.2" height="2.6" fill="#1a1a1a"/>
<text x="509.70" y="258.80" font-size="6.5" fill="#231f20" text-anchor="middle" >63</text>
<text x="476.00" y="271.00" font-size="8.6" fill="#231f20" text-anchor="middle" textLength="41" lengthAdjust="spacingAndGlyphs" stroke="#231f20" stroke-width="0.3">Frequency (n)</text>
<text x="0" y="0" font-size="6.6" letter-spacing="0.25" fill="#231f20" text-anchor="end" transform="translate(63.55,246.8) rotate(-90)">17</text>
<text x="0" y="0" font-size="6.6" letter-spacing="0.25" fill="#231f20" text-anchor="end" transform="translate(69.50,246.8) rotate(-90)">47</text>
<text x="0" y="0" font-size="6.6" letter-spacing="0.25" fill="#231f20" text-anchor="end" transform="translate(75.46,246.8) rotate(-90)">23</text>
<text x="0" y="0" font-size="6.6" letter-spacing="0.25" fill="#231f20" text-anchor="end" transform="translate(81.41,246.8) rotate(-90)">21</text>
<text x="0" y="0" font-size="6.6" letter-spacing="0.25" fill="#231f20" text-anchor="end" transform="translate(87.36,246.8) rotate(-90)">69</text>
<text x="0" y="0" font-size="6.6" letter-spacing="0.25" fill="#231f20" text-anchor="end" transform="translate(93.31,246.8) rotate(-90)">20</text>
<text x="0" y="0" font-size="6.6" letter-spacing="0.25" fill="#231f20" text-anchor="end" transform="translate(99.27,246.8) rotate(-90)">62</text>
<text x="0" y="0" font-size="6.6" letter-spacing="0.25" fill="#231f20" text-anchor="end" transform="translate(105.22,246.8) rotate(-90)">46</text>
<text x="0" y="0" font-size="6.6" letter-spacing="0.25" fill="#231f20" text-anchor="end" transform="translate(111.17,246.8) rotate(-90)">32</text>
<text x="0" y="0" font-size="6.6" letter-spacing="0.25" fill="#231f20" text-anchor="end" transform="translate(117.13,246.8) rotate(-90)">2</text>
<text x="0" y="0" font-size="6.6" letter-spacing="0.25" fill="#231f20" text-anchor="end" transform="translate(123.08,246.8) rotate(-90)">51</text>
<text x="0" y="0" font-size="6.6" letter-spacing="0.25" fill="#231f20" text-anchor="end" transform="translate(129.03,246.8) rotate(-90)">15</text>
<text x="0" y="0" font-size="6.6" letter-spacing="0.25" fill="#231f20" text-anchor="end" transform="translate(134.99,246.8) rotate(-90)">16</text>
<text x="0" y="0" font-size="6.6" letter-spacing="0.25" fill="#231f20" text-anchor="end" transform="translate(140.94,246.8) rotate(-90)">63</text>
<text x="0" y="0" font-size="6.6" letter-spacing="0.25" fill="#231f20" text-anchor="end" transform="translate(146.89,246.8) rotate(-90)">54</text>
<text x="0" y="0" font-size="6.6" letter-spacing="0.25" fill="#231f20" text-anchor="end" transform="translate(152.84,246.8) rotate(-90)">31</text>
<text x="0" y="0" font-size="6.6" letter-spacing="0.25" fill="#231f20" text-anchor="end" transform="translate(158.80,246.8) rotate(-90)">48</text>
<text x="0" y="0" font-size="6.6" letter-spacing="0.25" fill="#231f20" text-anchor="end" transform="translate(164.75,246.8) rotate(-90)">60</text>
<text x="0" y="0" font-size="6.6" letter-spacing="0.25" fill="#231f20" text-anchor="end" transform="translate(170.70,246.8) rotate(-90)">35</text>
<text x="0" y="0" font-size="6.6" letter-spacing="0.25" fill="#231f20" text-anchor="end" transform="translate(176.66,246.8) rotate(-90)">1</text>
<text x="0" y="0" font-size="6.6" letter-spacing="0.25" fill="#231f20" text-anchor="end" transform="translate(182.61,246.8) rotate(-90)">72</text>
<text x="0" y="0" font-size="6.6" letter-spacing="0.25" fill="#231f20" text-anchor="end" transform="translate(188.56,246.8) rotate(-90)">52</text>
<text x="0" y="0" font-size="6.6" letter-spacing="0.25" fill="#231f20" text-anchor="end" transform="translate(194.52,246.8) rotate(-90)">48</text>
<text x="0" y="0" font-size="6.6" letter-spacing="0.25" fill="#231f20" text-anchor="end" transform="translate(200.47,246.8) rotate(-90)">76</text>
<text x="0" y="0" font-size="6.6" letter-spacing="0.25" fill="#231f20" text-anchor="end" transform="translate(206.42,246.8) rotate(-90)">65</text>
<text x="0" y="0" font-size="6.6" letter-spacing="0.25" fill="#231f20" text-anchor="end" transform="translate(212.38,246.8) rotate(-90)">61</text>
<text x="0" y="0" font-size="6.6" letter-spacing="0.25" fill="#231f20" text-anchor="end" transform="translate(218.33,246.8) rotate(-90)">19</text>
<text x="0" y="0" font-size="6.6" letter-spacing="0.25" fill="#231f20" text-anchor="end" transform="translate(224.28,246.8) rotate(-90)">37</text>
<text x="0" y="0" font-size="6.6" letter-spacing="0.25" fill="#231f20" text-anchor="end" transform="translate(230.23,246.8) rotate(-90)">73</text>
<text x="0" y="0" font-size="6.6" letter-spacing="0.25" fill="#231f20" text-anchor="end" transform="translate(236.19,246.8) rotate(-90)">53</text>
<text x="0" y="0" font-size="6.6" letter-spacing="0.25" fill="#231f20" text-anchor="end" transform="translate(242.14,246.8) rotate(-90)">75</text>
<text x="0" y="0" font-size="6.6" letter-spacing="0.25" fill="#231f20" text-anchor="end" transform="translate(248.09,246.8) rotate(-90)">59</text>
<text x="0" y="0" font-size="6.6" letter-spacing="0.25" fill="#231f20" text-anchor="end" transform="translate(254.05,246.8) rotate(-90)">40</text>
<text x="0" y="0" font-size="6.6" letter-spacing="0.25" fill="#231f20" text-anchor="end" transform="translate(260.00,246.8) rotate(-90)">55</text>
<text x="0" y="0" font-size="6.6" letter-spacing="0.25" fill="#231f20" text-anchor="end" transform="translate(265.95,246.8) rotate(-90)">42</text>
<text x="0" y="0" font-size="6.6" letter-spacing="0.25" fill="#231f20" text-anchor="end" transform="translate(271.91,246.8) rotate(-90)">22</text>
<text x="0" y="0" font-size="6.6" letter-spacing="0.25" fill="#231f20" text-anchor="end" transform="translate(277.86,246.8) rotate(-90)">7</text>
<text x="0" y="0" font-size="6.6" letter-spacing="0.25" fill="#231f20" text-anchor="end" transform="translate(283.81,246.8) rotate(-90)">10</text>
<text x="0" y="0" font-size="6.6" letter-spacing="0.25" fill="#231f20" text-anchor="end" transform="translate(289.76,246.8) rotate(-90)">49</text>
<text x="0" y="0" font-size="6.6" letter-spacing="0.25" fill="#231f20" text-anchor="end" transform="translate(295.72,246.8) rotate(-90)">8</text>
<text x="0" y="0" font-size="6.6" letter-spacing="0.25" fill="#231f20" text-anchor="end" transform="translate(301.67,246.8) rotate(-90)">45</text>
<text x="0" y="0" font-size="6.6" letter-spacing="0.25" fill="#231f20" text-anchor="end" transform="translate(307.62,246.8) rotate(-90)">9</text>
<text x="0" y="0" font-size="6.6" letter-spacing="0.25" fill="#231f20" text-anchor="end" transform="translate(313.58,246.8) rotate(-90)">5</text>
<text x="0" y="0" font-size="6.6" letter-spacing="0.25" fill="#231f20" text-anchor="end" transform="translate(319.53,246.8) rotate(-90)">6</text>
<text x="0" y="0" font-size="6.6" letter-spacing="0.25" fill="#231f20" text-anchor="end" transform="translate(325.48,246.8) rotate(-90)">27</text>
<text x="0" y="0" font-size="6.6" letter-spacing="0.25" fill="#231f20" text-anchor="end" transform="translate(331.44,246.8) rotate(-90)">56</text>
<text x="0" y="0" font-size="6.6" letter-spacing="0.25" fill="#231f20" text-anchor="end" transform="translate(337.39,246.8) rotate(-90)">28</text>
<text x="0" y="0" font-size="6.6" letter-spacing="0.25" fill="#231f20" text-anchor="end" transform="translate(343.34,246.8) rotate(-90)">71</text>
<text x="0" y="0" font-size="6.6" letter-spacing="0.25" fill="#231f20" text-anchor="end" transform="translate(349.29,246.8) rotate(-90)">29</text>
<text x="0" y="0" font-size="6.6" letter-spacing="0.25" fill="#231f20" text-anchor="end" transform="translate(355.25,246.8) rotate(-90)">57</text>
<text x="0" y="0" font-size="6.6" letter-spacing="0.25" fill="#231f20" text-anchor="end" transform="translate(361.20,246.8) rotate(-90)">24</text>
<text x="0" y="0" font-size="6.6" letter-spacing="0.25" fill="#231f20" text-anchor="end" transform="translate(367.15,246.8) rotate(-90)">26</text>
<text x="0" y="0" font-size="6.6" letter-spacing="0.25" fill="#231f20" text-anchor="end" transform="translate(373.11,246.8) rotate(-90)">34</text>
<text x="0" y="0" font-size="6.6" letter-spacing="0.25" fill="#231f20" text-anchor="end" transform="translate(379.06,246.8) rotate(-90)">12</text>
<text x="0" y="0" font-size="6.6" letter-spacing="0.25" fill="#231f20" text-anchor="end" transform="translate(385.01,246.8) rotate(-90)">70</text>
<text x="0" y="0" font-size="6.6" letter-spacing="0.25" fill="#231f20" text-anchor="end" transform="translate(390.97,246.8) rotate(-90)">18</text>
<text x="0" y="0" font-size="6.6" letter-spacing="0.25" fill="#231f20" text-anchor="end" transform="translate(396.92,246.8) rotate(-90)">14</text>
<text x="0" y="0" font-size="6.6" letter-spacing="0.25" fill="#231f20" text-anchor="end" transform="translate(402.87,246.8) rotate(-90)">64</text>
<text x="0" y="0" font-size="6.6" letter-spacing="0.25" fill="#231f20" text-anchor="end" transform="translate(408.82,246.8) rotate(-90)">60</text>
<text x="0" y="0" font-size="6.6" letter-spacing="0.25" fill="#231f20" text-anchor="end" transform="translate(414.78,246.8) rotate(-90)">33</text>
<text x="0" y="0" font-size="6.6" letter-spacing="0.25" fill="#231f20" text-anchor="end" transform="translate(420.73,246.8) rotate(-90)">38</text>
<text x="0" y="0" font-size="6.6" letter-spacing="0.25" fill="#231f20" text-anchor="end" transform="translate(426.68,246.8) rotate(-90)">13</text>
<text x="0" y="0" font-size="6.6" letter-spacing="0.25" fill="#231f20" text-anchor="end" transform="translate(432.64,246.8) rotate(-90)">25</text>
<text x="50.80" y="276.80" font-size="8.6" fill="#231f20" text-anchor="start" >Age</text>
<rect x="50.8" y="282.2" width="8" height="7" fill="#64a6df"/>
<text x="64.90" y="287.60" font-size="6.35" fill="#231f20" text-anchor="start" textLength="32.3" lengthAdjust="spacingAndGlyphs" >&lt;=18 Years</text>
<rect x="50.8" y="292.7" width="8" height="7" fill="#25437b"/>
<text x="64.90" y="298.00" font-size="6.35" fill="#231f20" text-anchor="start" >&gt;18 Years</text>
<text x="107.00" y="276.80" font-size="8.6" fill="#231f20" text-anchor="start" >Gender</text>
<rect x="107" y="282.2" width="8" height="7" fill="#c2c0c6"/>
<text x="122.60" y="287.60" font-size="6.35" fill="#231f20" text-anchor="start" >Female</text>
<rect x="107" y="292.7" width="8" height="7" fill="#64a6df"/>
<text x="122.60" y="298.00" font-size="6.35" fill="#231f20" text-anchor="start" >Male</text>
<text x="152.90" y="276.80" font-size="8.6" fill="#231f20" text-anchor="start" textLength="113.6" lengthAdjust="spacingAndGlyphs" >Clinical parameters/IHC/FISH</text>
<rect x="152.9" y="282.2" width="8" height="7" fill="#c2c0c6"/>
<text x="164.90" y="287.60" font-size="6.35" fill="#231f20" text-anchor="start" >No</text>
<rect x="152.9" y="292.7" width="8" height="7" fill="#64a6df"/>
<text x="164.90" y="298.00" font-size="6.35" fill="#231f20" text-anchor="start" >Yes</text>
<text x="276.50" y="276.80" font-size="8.6" fill="#231f20" text-anchor="start" textLength="150" lengthAdjust="spacingAndGlyphs" >Hans/Lymph2Cx/Lymph3Cx signatures</text>
<rect x="276.7" y="282.2" width="8" height="7" fill="#e9b91a"/>
<text x="288.70" y="287.60" font-size="6.5" fill="#231f20" text-anchor="start" >GC/GCB</text>
<rect x="276.7" y="292.5" width="8" height="7" fill="#64a6df"/>
<text x="288.70" y="297.90" font-size="6.5" fill="#231f20" text-anchor="start" >non-GC/ABC</text>
<rect x="276.7" y="302.8" width="8" height="7" fill="#c80a7e"/>
<text x="288.70" y="308.20" font-size="6.5" fill="#231f20" text-anchor="start" >UNC</text>
<rect x="276.7" y="313.1" width="8" height="7" fill="#a6022b"/>
<text x="288.70" y="318.50" font-size="6.5" fill="#231f20" text-anchor="start" >mPMBL</text>
<rect x="276.7" y="323.4" width="8" height="7" fill="#52256a"/>
<text x="288.70" y="328.80" font-size="6.5" fill="#231f20" text-anchor="start" >Uncertain</text>
<rect x="0.5" y="0.5" width="519" height="337" fill="none" stroke="#000" stroke-width="1"/>
</svg></div></body></html>
